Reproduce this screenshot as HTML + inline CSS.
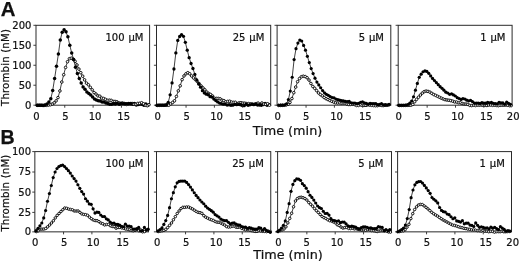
<!DOCTYPE html>
<html><head><meta charset="utf-8"><title>Thrombin generation</title>
<style>html,body{margin:0;padding:0;background:#fff}svg{display:block}</style></head>
<body>
<svg width="520" height="262" viewBox="0 0 520 262">
<rect width="520" height="262" fill="#fff"/>
<rect x="36.00" y="25.30" width="113.60" height="79.90" fill="none" stroke="#2a2a2a" stroke-width="1"/>
<line x1="33.40" x2="36.00" y1="25.30" y2="25.30" stroke="#2a2a2a" stroke-width="0.9"/>
<line x1="33.40" x2="36.00" y1="45.28" y2="45.28" stroke="#2a2a2a" stroke-width="0.9"/>
<line x1="33.40" x2="36.00" y1="65.25" y2="65.25" stroke="#2a2a2a" stroke-width="0.9"/>
<line x1="33.40" x2="36.00" y1="85.23" y2="85.23" stroke="#2a2a2a" stroke-width="0.9"/>
<line x1="33.40" x2="36.00" y1="105.20" y2="105.20" stroke="#2a2a2a" stroke-width="0.9"/>
<polyline points="37.10,105.38 39.00,105.33 40.90,105.31 42.80,105.30 44.70,105.30 46.60,105.29 48.50,105.09 50.40,104.74 52.30,104.00 54.20,102.83 56.10,100.87 58.00,97.59 59.90,90.94 61.80,82.03 63.70,74.72 65.60,67.42 67.50,61.72 69.40,58.71 71.30,58.21 73.20,59.14 75.10,61.30 77.00,64.97 78.90,69.10 80.80,72.72 82.70,76.16 84.60,79.88 86.50,83.13 88.40,84.81 90.30,87.30 92.20,89.83 94.10,92.60 96.00,94.04 97.90,95.88 99.80,96.16 101.70,98.05 103.60,98.45 105.50,99.36 107.40,100.33 109.30,100.16 111.20,100.36 113.10,101.43 115.00,101.43 116.90,101.81 118.80,102.79 120.70,103.66 122.60,102.97 124.50,103.56 126.40,104.42 128.30,104.11 130.20,103.94 132.10,103.51 134.00,104.23 135.90,104.18 137.80,103.42 139.70,103.30 141.60,102.73 143.50,103.77 145.40,105.25 147.30,105.70 149.00,104.71" fill="none" stroke="#111" stroke-width="0.8" stroke-linejoin="round"/>
<circle cx="37.10" cy="105.38" r="1.3" fill="#fff" stroke="#000" stroke-width="0.9"/>
<circle cx="39.00" cy="105.33" r="1.3" fill="#fff" stroke="#000" stroke-width="0.9"/>
<circle cx="40.90" cy="105.31" r="1.3" fill="#fff" stroke="#000" stroke-width="0.9"/>
<circle cx="42.80" cy="105.30" r="1.3" fill="#fff" stroke="#000" stroke-width="0.9"/>
<circle cx="44.70" cy="105.30" r="1.3" fill="#fff" stroke="#000" stroke-width="0.9"/>
<circle cx="46.60" cy="105.29" r="1.3" fill="#fff" stroke="#000" stroke-width="0.9"/>
<circle cx="48.50" cy="105.09" r="1.3" fill="#fff" stroke="#000" stroke-width="0.9"/>
<circle cx="50.40" cy="104.74" r="1.3" fill="#fff" stroke="#000" stroke-width="0.9"/>
<circle cx="52.30" cy="104.00" r="1.3" fill="#fff" stroke="#000" stroke-width="0.9"/>
<circle cx="54.20" cy="102.83" r="1.3" fill="#fff" stroke="#000" stroke-width="0.9"/>
<circle cx="56.10" cy="100.87" r="1.3" fill="#fff" stroke="#000" stroke-width="0.9"/>
<circle cx="58.00" cy="97.59" r="1.3" fill="#fff" stroke="#000" stroke-width="0.9"/>
<circle cx="59.90" cy="90.94" r="1.3" fill="#fff" stroke="#000" stroke-width="0.9"/>
<circle cx="61.80" cy="82.03" r="1.3" fill="#fff" stroke="#000" stroke-width="0.9"/>
<circle cx="63.70" cy="74.72" r="1.3" fill="#fff" stroke="#000" stroke-width="0.9"/>
<circle cx="65.60" cy="67.42" r="1.3" fill="#fff" stroke="#000" stroke-width="0.9"/>
<circle cx="67.50" cy="61.72" r="1.3" fill="#fff" stroke="#000" stroke-width="0.9"/>
<circle cx="69.40" cy="58.71" r="1.3" fill="#fff" stroke="#000" stroke-width="0.9"/>
<circle cx="71.30" cy="58.21" r="1.3" fill="#fff" stroke="#000" stroke-width="0.9"/>
<circle cx="73.20" cy="59.14" r="1.3" fill="#fff" stroke="#000" stroke-width="0.9"/>
<circle cx="75.10" cy="61.30" r="1.3" fill="#fff" stroke="#000" stroke-width="0.9"/>
<circle cx="77.00" cy="64.97" r="1.3" fill="#fff" stroke="#000" stroke-width="0.9"/>
<circle cx="78.90" cy="69.10" r="1.3" fill="#fff" stroke="#000" stroke-width="0.9"/>
<circle cx="80.80" cy="72.72" r="1.3" fill="#fff" stroke="#000" stroke-width="0.9"/>
<circle cx="82.70" cy="76.16" r="1.3" fill="#fff" stroke="#000" stroke-width="0.9"/>
<circle cx="84.60" cy="79.88" r="1.3" fill="#fff" stroke="#000" stroke-width="0.9"/>
<circle cx="86.50" cy="83.13" r="1.3" fill="#fff" stroke="#000" stroke-width="0.9"/>
<circle cx="88.40" cy="84.81" r="1.3" fill="#fff" stroke="#000" stroke-width="0.9"/>
<circle cx="90.30" cy="87.30" r="1.3" fill="#fff" stroke="#000" stroke-width="0.9"/>
<circle cx="92.20" cy="89.83" r="1.3" fill="#fff" stroke="#000" stroke-width="0.9"/>
<circle cx="94.10" cy="92.60" r="1.3" fill="#fff" stroke="#000" stroke-width="0.9"/>
<circle cx="96.00" cy="94.04" r="1.3" fill="#fff" stroke="#000" stroke-width="0.9"/>
<circle cx="97.90" cy="95.88" r="1.3" fill="#fff" stroke="#000" stroke-width="0.9"/>
<circle cx="99.80" cy="96.16" r="1.3" fill="#fff" stroke="#000" stroke-width="0.9"/>
<circle cx="101.70" cy="98.05" r="1.3" fill="#fff" stroke="#000" stroke-width="0.9"/>
<circle cx="103.60" cy="98.45" r="1.3" fill="#fff" stroke="#000" stroke-width="0.9"/>
<circle cx="105.50" cy="99.36" r="1.3" fill="#fff" stroke="#000" stroke-width="0.9"/>
<circle cx="107.40" cy="100.33" r="1.3" fill="#fff" stroke="#000" stroke-width="0.9"/>
<circle cx="109.30" cy="100.16" r="1.3" fill="#fff" stroke="#000" stroke-width="0.9"/>
<circle cx="111.20" cy="100.36" r="1.3" fill="#fff" stroke="#000" stroke-width="0.9"/>
<circle cx="113.10" cy="101.43" r="1.3" fill="#fff" stroke="#000" stroke-width="0.9"/>
<circle cx="115.00" cy="101.43" r="1.3" fill="#fff" stroke="#000" stroke-width="0.9"/>
<circle cx="116.90" cy="101.81" r="1.3" fill="#fff" stroke="#000" stroke-width="0.9"/>
<circle cx="118.80" cy="102.79" r="1.3" fill="#fff" stroke="#000" stroke-width="0.9"/>
<circle cx="120.70" cy="103.66" r="1.3" fill="#fff" stroke="#000" stroke-width="0.9"/>
<circle cx="122.60" cy="102.97" r="1.3" fill="#fff" stroke="#000" stroke-width="0.9"/>
<circle cx="124.50" cy="103.56" r="1.3" fill="#fff" stroke="#000" stroke-width="0.9"/>
<circle cx="126.40" cy="104.42" r="1.3" fill="#fff" stroke="#000" stroke-width="0.9"/>
<circle cx="128.30" cy="104.11" r="1.3" fill="#fff" stroke="#000" stroke-width="0.9"/>
<circle cx="130.20" cy="103.94" r="1.3" fill="#fff" stroke="#000" stroke-width="0.9"/>
<circle cx="132.10" cy="103.51" r="1.3" fill="#fff" stroke="#000" stroke-width="0.9"/>
<polyline points="37.50,105.30 39.40,105.21 41.30,105.25 43.20,105.38 45.10,105.09 47.00,103.92 48.90,102.00 50.80,98.78 52.70,90.58 54.60,78.56 56.50,66.20 58.40,54.08 60.30,39.96 62.20,32.20 64.10,29.71 66.00,31.85 67.90,36.86 69.80,45.20 71.70,53.03 73.60,59.48 75.50,67.15 77.40,73.51 79.30,78.50 81.20,82.99 83.10,87.06 85.00,89.27 86.90,91.96 88.80,93.52 90.70,94.91 92.60,97.01 94.50,99.02 96.40,100.11 98.30,100.85 100.20,101.00 102.10,102.03 104.00,102.03 105.90,102.91 107.80,103.39 109.70,104.37 111.60,104.19 113.50,103.66 115.40,103.91 117.30,103.23 119.20,104.15 121.10,103.30 123.00,103.75 124.90,103.74 126.80,103.65 128.70,103.53 130.60,103.40 132.50,104.32 134.40,103.46 136.30,104.94 138.20,104.49 140.10,103.89 142.00,104.15 143.90,105.16 145.80,104.09 147.70,105.15" fill="none" stroke="#111" stroke-width="0.8" stroke-linejoin="round"/>
<circle cx="37.50" cy="105.30" r="1.75" fill="#000"/>
<circle cx="39.40" cy="105.21" r="1.75" fill="#000"/>
<circle cx="41.30" cy="105.25" r="1.75" fill="#000"/>
<circle cx="43.20" cy="105.38" r="1.75" fill="#000"/>
<circle cx="45.10" cy="105.09" r="1.75" fill="#000"/>
<circle cx="47.00" cy="103.92" r="1.75" fill="#000"/>
<circle cx="48.90" cy="102.00" r="1.75" fill="#000"/>
<circle cx="50.80" cy="98.78" r="1.75" fill="#000"/>
<circle cx="52.70" cy="90.58" r="1.75" fill="#000"/>
<circle cx="54.60" cy="78.56" r="1.75" fill="#000"/>
<circle cx="56.50" cy="66.20" r="1.75" fill="#000"/>
<circle cx="58.40" cy="54.08" r="1.75" fill="#000"/>
<circle cx="60.30" cy="39.96" r="1.75" fill="#000"/>
<circle cx="62.20" cy="32.20" r="1.75" fill="#000"/>
<circle cx="64.10" cy="29.71" r="1.75" fill="#000"/>
<circle cx="66.00" cy="31.85" r="1.75" fill="#000"/>
<circle cx="67.90" cy="36.86" r="1.75" fill="#000"/>
<circle cx="69.80" cy="45.20" r="1.75" fill="#000"/>
<circle cx="71.70" cy="53.03" r="1.75" fill="#000"/>
<circle cx="73.60" cy="59.48" r="1.75" fill="#000"/>
<circle cx="75.50" cy="67.15" r="1.75" fill="#000"/>
<circle cx="77.40" cy="73.51" r="1.75" fill="#000"/>
<circle cx="79.30" cy="78.50" r="1.75" fill="#000"/>
<circle cx="81.20" cy="82.99" r="1.75" fill="#000"/>
<circle cx="83.10" cy="87.06" r="1.75" fill="#000"/>
<circle cx="85.00" cy="89.27" r="1.75" fill="#000"/>
<circle cx="86.90" cy="91.96" r="1.75" fill="#000"/>
<circle cx="88.80" cy="93.52" r="1.75" fill="#000"/>
<circle cx="90.70" cy="94.91" r="1.75" fill="#000"/>
<circle cx="92.60" cy="97.01" r="1.75" fill="#000"/>
<circle cx="94.50" cy="99.02" r="1.75" fill="#000"/>
<circle cx="96.40" cy="100.11" r="1.75" fill="#000"/>
<circle cx="98.30" cy="100.85" r="1.75" fill="#000"/>
<circle cx="100.20" cy="101.00" r="1.75" fill="#000"/>
<circle cx="102.10" cy="102.03" r="1.75" fill="#000"/>
<circle cx="104.00" cy="102.03" r="1.75" fill="#000"/>
<circle cx="105.90" cy="102.91" r="1.75" fill="#000"/>
<circle cx="107.80" cy="103.39" r="1.75" fill="#000"/>
<circle cx="109.70" cy="104.37" r="1.75" fill="#000"/>
<circle cx="111.60" cy="104.19" r="1.75" fill="#000"/>
<circle cx="113.50" cy="103.66" r="1.75" fill="#000"/>
<circle cx="115.40" cy="103.91" r="1.75" fill="#000"/>
<circle cx="117.30" cy="103.23" r="1.75" fill="#000"/>
<circle cx="119.20" cy="104.15" r="1.75" fill="#000"/>
<circle cx="121.10" cy="103.30" r="1.75" fill="#000"/>
<circle cx="123.00" cy="103.75" r="1.75" fill="#000"/>
<circle cx="124.90" cy="103.74" r="1.75" fill="#000"/>
<circle cx="126.80" cy="103.65" r="1.75" fill="#000"/>
<circle cx="128.70" cy="103.53" r="1.75" fill="#000"/>
<circle cx="130.60" cy="103.40" r="1.75" fill="#000"/>
<circle cx="132.50" cy="104.32" r="1.75" fill="#000"/>
<circle cx="134.40" cy="103.46" r="1.75" fill="#000"/>
<circle cx="136.30" cy="104.94" r="1.75" fill="#000"/>
<circle cx="138.20" cy="104.49" r="1.75" fill="#000"/>
<circle cx="140.10" cy="103.89" r="1.75" fill="#000"/>
<circle cx="142.00" cy="104.15" r="1.75" fill="#000"/>
<circle cx="143.90" cy="105.16" r="1.75" fill="#000"/>
<circle cx="145.80" cy="104.09" r="1.75" fill="#000"/>
<circle cx="147.70" cy="105.15" r="1.75" fill="#000"/>
<circle cx="134.00" cy="104.23" r="1.3" fill="#fff" stroke="#000" stroke-width="0.9"/>
<circle cx="135.90" cy="104.18" r="1.3" fill="#fff" stroke="#000" stroke-width="0.9"/>
<circle cx="137.80" cy="103.42" r="1.3" fill="#fff" stroke="#000" stroke-width="0.9"/>
<circle cx="139.70" cy="103.30" r="1.3" fill="#fff" stroke="#000" stroke-width="0.9"/>
<circle cx="141.60" cy="102.73" r="1.3" fill="#fff" stroke="#000" stroke-width="0.9"/>
<circle cx="143.50" cy="103.77" r="1.3" fill="#fff" stroke="#000" stroke-width="0.9"/>
<circle cx="145.40" cy="105.25" r="1.3" fill="#fff" stroke="#000" stroke-width="0.9"/>
<circle cx="147.30" cy="105.70" r="1.3" fill="#fff" stroke="#000" stroke-width="0.9"/>
<circle cx="149.00" cy="104.71" r="1.3" fill="#fff" stroke="#000" stroke-width="0.9"/>
<rect x="156.50" y="25.30" width="114.20" height="79.90" fill="none" stroke="#2a2a2a" stroke-width="1"/>
<line x1="153.90" x2="156.50" y1="25.30" y2="25.30" stroke="#2a2a2a" stroke-width="0.9"/>
<line x1="153.90" x2="156.50" y1="45.28" y2="45.28" stroke="#2a2a2a" stroke-width="0.9"/>
<line x1="153.90" x2="156.50" y1="65.25" y2="65.25" stroke="#2a2a2a" stroke-width="0.9"/>
<line x1="153.90" x2="156.50" y1="85.23" y2="85.23" stroke="#2a2a2a" stroke-width="0.9"/>
<line x1="153.90" x2="156.50" y1="105.20" y2="105.20" stroke="#2a2a2a" stroke-width="0.9"/>
<polyline points="157.40,105.38 159.30,105.33 161.20,105.30 163.10,105.30 165.00,105.30 166.90,105.29 168.80,105.21 170.70,103.93 172.60,102.45 174.50,100.81 176.40,96.43 178.30,90.88 180.20,85.82 182.10,79.65 184.00,75.94 185.90,73.84 187.80,72.70 189.70,73.78 191.60,75.91 193.50,77.90 195.40,79.64 197.30,81.54 199.20,83.72 201.10,85.92 203.00,87.91 204.90,89.81 206.80,92.06 208.70,93.50 210.60,94.46 212.50,95.97 214.40,98.22 216.30,98.43 218.20,98.42 220.10,98.83 222.00,100.19 223.90,100.60 225.80,101.76 227.70,101.41 229.60,101.19 231.50,102.08 233.40,102.37 235.30,102.25 237.20,103.57 239.10,102.87 241.00,102.75 242.90,103.08 244.80,103.18 246.70,103.61 248.60,103.59 250.50,103.81 252.40,104.13 254.30,104.18 256.20,103.65 258.10,103.10 260.00,104.42 261.90,102.99 263.80,104.03 265.70,104.25 267.60,103.77 269.50,105.19" fill="none" stroke="#111" stroke-width="0.8" stroke-linejoin="round"/>
<circle cx="157.40" cy="105.38" r="1.3" fill="#fff" stroke="#000" stroke-width="0.9"/>
<circle cx="159.30" cy="105.33" r="1.3" fill="#fff" stroke="#000" stroke-width="0.9"/>
<circle cx="161.20" cy="105.30" r="1.3" fill="#fff" stroke="#000" stroke-width="0.9"/>
<circle cx="163.10" cy="105.30" r="1.3" fill="#fff" stroke="#000" stroke-width="0.9"/>
<circle cx="165.00" cy="105.30" r="1.3" fill="#fff" stroke="#000" stroke-width="0.9"/>
<circle cx="166.90" cy="105.29" r="1.3" fill="#fff" stroke="#000" stroke-width="0.9"/>
<circle cx="168.80" cy="105.21" r="1.3" fill="#fff" stroke="#000" stroke-width="0.9"/>
<circle cx="170.70" cy="103.93" r="1.3" fill="#fff" stroke="#000" stroke-width="0.9"/>
<circle cx="172.60" cy="102.45" r="1.3" fill="#fff" stroke="#000" stroke-width="0.9"/>
<circle cx="174.50" cy="100.81" r="1.3" fill="#fff" stroke="#000" stroke-width="0.9"/>
<circle cx="176.40" cy="96.43" r="1.3" fill="#fff" stroke="#000" stroke-width="0.9"/>
<circle cx="178.30" cy="90.88" r="1.3" fill="#fff" stroke="#000" stroke-width="0.9"/>
<circle cx="180.20" cy="85.82" r="1.3" fill="#fff" stroke="#000" stroke-width="0.9"/>
<circle cx="182.10" cy="79.65" r="1.3" fill="#fff" stroke="#000" stroke-width="0.9"/>
<circle cx="184.00" cy="75.94" r="1.3" fill="#fff" stroke="#000" stroke-width="0.9"/>
<circle cx="185.90" cy="73.84" r="1.3" fill="#fff" stroke="#000" stroke-width="0.9"/>
<circle cx="187.80" cy="72.70" r="1.3" fill="#fff" stroke="#000" stroke-width="0.9"/>
<circle cx="189.70" cy="73.78" r="1.3" fill="#fff" stroke="#000" stroke-width="0.9"/>
<circle cx="191.60" cy="75.91" r="1.3" fill="#fff" stroke="#000" stroke-width="0.9"/>
<circle cx="193.50" cy="77.90" r="1.3" fill="#fff" stroke="#000" stroke-width="0.9"/>
<circle cx="195.40" cy="79.64" r="1.3" fill="#fff" stroke="#000" stroke-width="0.9"/>
<circle cx="197.30" cy="81.54" r="1.3" fill="#fff" stroke="#000" stroke-width="0.9"/>
<circle cx="199.20" cy="83.72" r="1.3" fill="#fff" stroke="#000" stroke-width="0.9"/>
<circle cx="201.10" cy="85.92" r="1.3" fill="#fff" stroke="#000" stroke-width="0.9"/>
<circle cx="203.00" cy="87.91" r="1.3" fill="#fff" stroke="#000" stroke-width="0.9"/>
<circle cx="204.90" cy="89.81" r="1.3" fill="#fff" stroke="#000" stroke-width="0.9"/>
<circle cx="206.80" cy="92.06" r="1.3" fill="#fff" stroke="#000" stroke-width="0.9"/>
<circle cx="208.70" cy="93.50" r="1.3" fill="#fff" stroke="#000" stroke-width="0.9"/>
<circle cx="210.60" cy="94.46" r="1.3" fill="#fff" stroke="#000" stroke-width="0.9"/>
<circle cx="212.50" cy="95.97" r="1.3" fill="#fff" stroke="#000" stroke-width="0.9"/>
<circle cx="214.40" cy="98.22" r="1.3" fill="#fff" stroke="#000" stroke-width="0.9"/>
<circle cx="216.30" cy="98.43" r="1.3" fill="#fff" stroke="#000" stroke-width="0.9"/>
<circle cx="218.20" cy="98.42" r="1.3" fill="#fff" stroke="#000" stroke-width="0.9"/>
<circle cx="220.10" cy="98.83" r="1.3" fill="#fff" stroke="#000" stroke-width="0.9"/>
<circle cx="222.00" cy="100.19" r="1.3" fill="#fff" stroke="#000" stroke-width="0.9"/>
<circle cx="223.90" cy="100.60" r="1.3" fill="#fff" stroke="#000" stroke-width="0.9"/>
<circle cx="225.80" cy="101.76" r="1.3" fill="#fff" stroke="#000" stroke-width="0.9"/>
<circle cx="227.70" cy="101.41" r="1.3" fill="#fff" stroke="#000" stroke-width="0.9"/>
<circle cx="229.60" cy="101.19" r="1.3" fill="#fff" stroke="#000" stroke-width="0.9"/>
<circle cx="231.50" cy="102.08" r="1.3" fill="#fff" stroke="#000" stroke-width="0.9"/>
<circle cx="233.40" cy="102.37" r="1.3" fill="#fff" stroke="#000" stroke-width="0.9"/>
<circle cx="235.30" cy="102.25" r="1.3" fill="#fff" stroke="#000" stroke-width="0.9"/>
<circle cx="237.20" cy="103.57" r="1.3" fill="#fff" stroke="#000" stroke-width="0.9"/>
<circle cx="239.10" cy="102.87" r="1.3" fill="#fff" stroke="#000" stroke-width="0.9"/>
<circle cx="241.00" cy="102.75" r="1.3" fill="#fff" stroke="#000" stroke-width="0.9"/>
<circle cx="242.90" cy="103.08" r="1.3" fill="#fff" stroke="#000" stroke-width="0.9"/>
<circle cx="244.80" cy="103.18" r="1.3" fill="#fff" stroke="#000" stroke-width="0.9"/>
<circle cx="246.70" cy="103.61" r="1.3" fill="#fff" stroke="#000" stroke-width="0.9"/>
<circle cx="248.60" cy="103.59" r="1.3" fill="#fff" stroke="#000" stroke-width="0.9"/>
<circle cx="250.50" cy="103.81" r="1.3" fill="#fff" stroke="#000" stroke-width="0.9"/>
<circle cx="252.40" cy="104.13" r="1.3" fill="#fff" stroke="#000" stroke-width="0.9"/>
<circle cx="254.30" cy="104.18" r="1.3" fill="#fff" stroke="#000" stroke-width="0.9"/>
<circle cx="256.20" cy="103.65" r="1.3" fill="#fff" stroke="#000" stroke-width="0.9"/>
<circle cx="258.10" cy="103.10" r="1.3" fill="#fff" stroke="#000" stroke-width="0.9"/>
<circle cx="260.00" cy="104.42" r="1.3" fill="#fff" stroke="#000" stroke-width="0.9"/>
<circle cx="261.90" cy="102.99" r="1.3" fill="#fff" stroke="#000" stroke-width="0.9"/>
<polyline points="156.85,105.29 158.75,105.22 160.65,105.20 162.55,105.20 164.45,105.18 166.35,104.66 168.25,102.32 170.15,94.85 172.05,82.94 173.95,68.98 175.85,52.90 177.75,40.40 179.65,36.49 181.55,34.72 183.45,36.37 185.35,42.34 187.25,50.19 189.15,57.68 191.05,63.48 192.95,68.52 194.85,74.41 196.75,79.98 198.65,84.02 200.55,87.14 202.45,90.69 204.35,92.95 206.25,94.22 208.15,94.76 210.05,96.69 211.95,97.08 213.85,99.03 215.75,100.58 217.65,101.95 219.55,103.12 221.45,103.53 223.35,104.22 225.25,104.10 227.15,105.03 229.05,104.73 230.95,105.25 232.85,105.15 234.75,104.34 236.65,104.67 238.55,104.32 240.45,104.75 242.35,105.54 244.25,105.70 246.15,104.14 248.05,105.36 249.95,104.78 251.85,104.20 253.75,104.71 255.65,104.22 257.55,105.09 259.45,104.98 261.35,105.27 263.25,104.68 265.15,103.31 267.05,105.26 268.95,104.56" fill="none" stroke="#111" stroke-width="0.8" stroke-linejoin="round"/>
<circle cx="156.85" cy="105.29" r="1.65" fill="#000"/>
<circle cx="158.75" cy="105.22" r="1.65" fill="#000"/>
<circle cx="160.65" cy="105.20" r="1.65" fill="#000"/>
<circle cx="162.55" cy="105.20" r="1.65" fill="#000"/>
<circle cx="164.45" cy="105.18" r="1.65" fill="#000"/>
<circle cx="166.35" cy="104.66" r="1.65" fill="#000"/>
<circle cx="168.25" cy="102.32" r="1.65" fill="#000"/>
<circle cx="170.15" cy="94.85" r="1.65" fill="#000"/>
<circle cx="172.05" cy="82.94" r="1.65" fill="#000"/>
<circle cx="173.95" cy="68.98" r="1.65" fill="#000"/>
<circle cx="175.85" cy="52.90" r="1.65" fill="#000"/>
<circle cx="177.75" cy="40.40" r="1.65" fill="#000"/>
<circle cx="179.65" cy="36.49" r="1.65" fill="#000"/>
<circle cx="181.55" cy="34.72" r="1.65" fill="#000"/>
<circle cx="183.45" cy="36.37" r="1.65" fill="#000"/>
<circle cx="185.35" cy="42.34" r="1.65" fill="#000"/>
<circle cx="187.25" cy="50.19" r="1.65" fill="#000"/>
<circle cx="189.15" cy="57.68" r="1.65" fill="#000"/>
<circle cx="191.05" cy="63.48" r="1.65" fill="#000"/>
<circle cx="192.95" cy="68.52" r="1.65" fill="#000"/>
<circle cx="194.85" cy="74.41" r="1.65" fill="#000"/>
<circle cx="196.75" cy="79.98" r="1.65" fill="#000"/>
<circle cx="198.65" cy="84.02" r="1.65" fill="#000"/>
<circle cx="200.55" cy="87.14" r="1.65" fill="#000"/>
<circle cx="202.45" cy="90.69" r="1.65" fill="#000"/>
<circle cx="204.35" cy="92.95" r="1.65" fill="#000"/>
<circle cx="206.25" cy="94.22" r="1.65" fill="#000"/>
<circle cx="208.15" cy="94.76" r="1.65" fill="#000"/>
<circle cx="210.05" cy="96.69" r="1.65" fill="#000"/>
<circle cx="211.95" cy="97.08" r="1.65" fill="#000"/>
<circle cx="213.85" cy="99.03" r="1.65" fill="#000"/>
<circle cx="215.75" cy="100.58" r="1.65" fill="#000"/>
<circle cx="217.65" cy="101.95" r="1.65" fill="#000"/>
<circle cx="219.55" cy="103.12" r="1.65" fill="#000"/>
<circle cx="221.45" cy="103.53" r="1.65" fill="#000"/>
<circle cx="223.35" cy="104.22" r="1.65" fill="#000"/>
<circle cx="225.25" cy="104.10" r="1.65" fill="#000"/>
<circle cx="227.15" cy="105.03" r="1.65" fill="#000"/>
<circle cx="229.05" cy="104.73" r="1.65" fill="#000"/>
<circle cx="230.95" cy="105.25" r="1.65" fill="#000"/>
<circle cx="232.85" cy="105.15" r="1.65" fill="#000"/>
<circle cx="234.75" cy="104.34" r="1.65" fill="#000"/>
<circle cx="236.65" cy="104.67" r="1.65" fill="#000"/>
<circle cx="238.55" cy="104.32" r="1.65" fill="#000"/>
<circle cx="240.45" cy="104.75" r="1.65" fill="#000"/>
<circle cx="242.35" cy="105.54" r="1.65" fill="#000"/>
<circle cx="244.25" cy="105.70" r="1.65" fill="#000"/>
<circle cx="246.15" cy="104.14" r="1.65" fill="#000"/>
<circle cx="248.05" cy="105.36" r="1.65" fill="#000"/>
<circle cx="249.95" cy="104.78" r="1.65" fill="#000"/>
<circle cx="251.85" cy="104.20" r="1.65" fill="#000"/>
<circle cx="253.75" cy="104.71" r="1.65" fill="#000"/>
<circle cx="255.65" cy="104.22" r="1.65" fill="#000"/>
<circle cx="257.55" cy="105.09" r="1.65" fill="#000"/>
<circle cx="259.45" cy="104.98" r="1.65" fill="#000"/>
<circle cx="261.35" cy="105.27" r="1.65" fill="#000"/>
<circle cx="263.25" cy="104.68" r="1.65" fill="#000"/>
<circle cx="265.15" cy="103.31" r="1.65" fill="#000"/>
<circle cx="267.05" cy="105.26" r="1.65" fill="#000"/>
<circle cx="268.95" cy="104.56" r="1.65" fill="#000"/>
<circle cx="263.80" cy="104.03" r="1.3" fill="#fff" stroke="#000" stroke-width="0.9"/>
<circle cx="265.70" cy="104.25" r="1.3" fill="#fff" stroke="#000" stroke-width="0.9"/>
<circle cx="267.60" cy="103.77" r="1.3" fill="#fff" stroke="#000" stroke-width="0.9"/>
<circle cx="269.50" cy="105.19" r="1.3" fill="#fff" stroke="#000" stroke-width="0.9"/>
<rect x="277.10" y="25.30" width="113.70" height="79.90" fill="none" stroke="#2a2a2a" stroke-width="1"/>
<line x1="274.50" x2="277.10" y1="25.30" y2="25.30" stroke="#2a2a2a" stroke-width="0.9"/>
<line x1="274.50" x2="277.10" y1="45.28" y2="45.28" stroke="#2a2a2a" stroke-width="0.9"/>
<line x1="274.50" x2="277.10" y1="65.25" y2="65.25" stroke="#2a2a2a" stroke-width="0.9"/>
<line x1="274.50" x2="277.10" y1="85.23" y2="85.23" stroke="#2a2a2a" stroke-width="0.9"/>
<line x1="274.50" x2="277.10" y1="105.20" y2="105.20" stroke="#2a2a2a" stroke-width="0.9"/>
<polyline points="278.60,105.39 280.50,105.36 282.40,105.32 284.30,105.21 286.20,104.92 288.10,104.30 290.00,102.31 291.90,98.56 293.80,92.71 295.70,87.07 297.60,81.66 299.50,78.58 301.40,76.74 303.30,76.21 305.20,76.59 307.10,77.74 309.00,80.04 310.90,83.48 312.80,86.45 314.70,88.31 316.60,90.59 318.50,92.94 320.40,94.61 322.30,95.87 324.20,97.55 326.10,98.71 328.00,99.58 329.90,100.51 331.80,101.30 333.70,102.10 335.60,102.79 337.50,103.01 339.40,102.91 341.30,103.27 343.20,103.12 345.10,103.12 347.00,104.15 348.90,104.51 350.80,104.46 352.70,104.29 354.60,104.53 356.50,105.45 358.40,105.44 360.30,104.81 362.20,105.38 364.10,105.32 366.00,105.33 367.90,104.87 369.80,105.13 371.70,105.33 373.60,105.55 375.50,105.70 377.40,105.65 379.30,105.20 381.20,105.41 383.10,105.59 385.00,105.36 386.90,105.24 388.80,104.95" fill="none" stroke="#111" stroke-width="0.8" stroke-linejoin="round"/>
<circle cx="278.60" cy="105.39" r="1.3" fill="#fff" stroke="#000" stroke-width="0.9"/>
<circle cx="280.50" cy="105.36" r="1.3" fill="#fff" stroke="#000" stroke-width="0.9"/>
<circle cx="282.40" cy="105.32" r="1.3" fill="#fff" stroke="#000" stroke-width="0.9"/>
<circle cx="284.30" cy="105.21" r="1.3" fill="#fff" stroke="#000" stroke-width="0.9"/>
<circle cx="286.20" cy="104.92" r="1.3" fill="#fff" stroke="#000" stroke-width="0.9"/>
<circle cx="288.10" cy="104.30" r="1.3" fill="#fff" stroke="#000" stroke-width="0.9"/>
<circle cx="290.00" cy="102.31" r="1.3" fill="#fff" stroke="#000" stroke-width="0.9"/>
<circle cx="291.90" cy="98.56" r="1.3" fill="#fff" stroke="#000" stroke-width="0.9"/>
<circle cx="293.80" cy="92.71" r="1.3" fill="#fff" stroke="#000" stroke-width="0.9"/>
<circle cx="295.70" cy="87.07" r="1.3" fill="#fff" stroke="#000" stroke-width="0.9"/>
<circle cx="297.60" cy="81.66" r="1.3" fill="#fff" stroke="#000" stroke-width="0.9"/>
<circle cx="299.50" cy="78.58" r="1.3" fill="#fff" stroke="#000" stroke-width="0.9"/>
<circle cx="301.40" cy="76.74" r="1.3" fill="#fff" stroke="#000" stroke-width="0.9"/>
<circle cx="303.30" cy="76.21" r="1.3" fill="#fff" stroke="#000" stroke-width="0.9"/>
<circle cx="305.20" cy="76.59" r="1.3" fill="#fff" stroke="#000" stroke-width="0.9"/>
<circle cx="307.10" cy="77.74" r="1.3" fill="#fff" stroke="#000" stroke-width="0.9"/>
<circle cx="309.00" cy="80.04" r="1.3" fill="#fff" stroke="#000" stroke-width="0.9"/>
<circle cx="310.90" cy="83.48" r="1.3" fill="#fff" stroke="#000" stroke-width="0.9"/>
<circle cx="312.80" cy="86.45" r="1.3" fill="#fff" stroke="#000" stroke-width="0.9"/>
<circle cx="314.70" cy="88.31" r="1.3" fill="#fff" stroke="#000" stroke-width="0.9"/>
<circle cx="316.60" cy="90.59" r="1.3" fill="#fff" stroke="#000" stroke-width="0.9"/>
<circle cx="318.50" cy="92.94" r="1.3" fill="#fff" stroke="#000" stroke-width="0.9"/>
<circle cx="320.40" cy="94.61" r="1.3" fill="#fff" stroke="#000" stroke-width="0.9"/>
<circle cx="322.30" cy="95.87" r="1.3" fill="#fff" stroke="#000" stroke-width="0.9"/>
<circle cx="324.20" cy="97.55" r="1.3" fill="#fff" stroke="#000" stroke-width="0.9"/>
<circle cx="326.10" cy="98.71" r="1.3" fill="#fff" stroke="#000" stroke-width="0.9"/>
<circle cx="328.00" cy="99.58" r="1.3" fill="#fff" stroke="#000" stroke-width="0.9"/>
<circle cx="329.90" cy="100.51" r="1.3" fill="#fff" stroke="#000" stroke-width="0.9"/>
<circle cx="331.80" cy="101.30" r="1.3" fill="#fff" stroke="#000" stroke-width="0.9"/>
<circle cx="333.70" cy="102.10" r="1.3" fill="#fff" stroke="#000" stroke-width="0.9"/>
<circle cx="335.60" cy="102.79" r="1.3" fill="#fff" stroke="#000" stroke-width="0.9"/>
<circle cx="337.50" cy="103.01" r="1.3" fill="#fff" stroke="#000" stroke-width="0.9"/>
<circle cx="339.40" cy="102.91" r="1.3" fill="#fff" stroke="#000" stroke-width="0.9"/>
<circle cx="341.30" cy="103.27" r="1.3" fill="#fff" stroke="#000" stroke-width="0.9"/>
<circle cx="343.20" cy="103.12" r="1.3" fill="#fff" stroke="#000" stroke-width="0.9"/>
<circle cx="345.10" cy="103.12" r="1.3" fill="#fff" stroke="#000" stroke-width="0.9"/>
<circle cx="347.00" cy="104.15" r="1.3" fill="#fff" stroke="#000" stroke-width="0.9"/>
<circle cx="348.90" cy="104.51" r="1.3" fill="#fff" stroke="#000" stroke-width="0.9"/>
<circle cx="350.80" cy="104.46" r="1.3" fill="#fff" stroke="#000" stroke-width="0.9"/>
<circle cx="352.70" cy="104.29" r="1.3" fill="#fff" stroke="#000" stroke-width="0.9"/>
<circle cx="354.60" cy="104.53" r="1.3" fill="#fff" stroke="#000" stroke-width="0.9"/>
<circle cx="356.50" cy="105.45" r="1.3" fill="#fff" stroke="#000" stroke-width="0.9"/>
<circle cx="358.40" cy="105.44" r="1.3" fill="#fff" stroke="#000" stroke-width="0.9"/>
<circle cx="360.30" cy="104.81" r="1.3" fill="#fff" stroke="#000" stroke-width="0.9"/>
<circle cx="362.20" cy="105.38" r="1.3" fill="#fff" stroke="#000" stroke-width="0.9"/>
<circle cx="364.10" cy="105.32" r="1.3" fill="#fff" stroke="#000" stroke-width="0.9"/>
<circle cx="366.00" cy="105.33" r="1.3" fill="#fff" stroke="#000" stroke-width="0.9"/>
<circle cx="367.90" cy="104.87" r="1.3" fill="#fff" stroke="#000" stroke-width="0.9"/>
<circle cx="369.80" cy="105.13" r="1.3" fill="#fff" stroke="#000" stroke-width="0.9"/>
<circle cx="371.70" cy="105.33" r="1.3" fill="#fff" stroke="#000" stroke-width="0.9"/>
<circle cx="373.60" cy="105.55" r="1.3" fill="#fff" stroke="#000" stroke-width="0.9"/>
<circle cx="375.50" cy="105.70" r="1.3" fill="#fff" stroke="#000" stroke-width="0.9"/>
<circle cx="377.40" cy="105.65" r="1.3" fill="#fff" stroke="#000" stroke-width="0.9"/>
<circle cx="379.30" cy="105.20" r="1.3" fill="#fff" stroke="#000" stroke-width="0.9"/>
<circle cx="381.20" cy="105.41" r="1.3" fill="#fff" stroke="#000" stroke-width="0.9"/>
<circle cx="383.10" cy="105.59" r="1.3" fill="#fff" stroke="#000" stroke-width="0.9"/>
<circle cx="385.00" cy="105.36" r="1.3" fill="#fff" stroke="#000" stroke-width="0.9"/>
<circle cx="386.90" cy="105.24" r="1.3" fill="#fff" stroke="#000" stroke-width="0.9"/>
<circle cx="388.80" cy="104.95" r="1.3" fill="#fff" stroke="#000" stroke-width="0.9"/>
<polyline points="278.90,105.27 280.80,105.21 282.70,105.14 284.60,104.99 286.50,103.80 288.40,99.61 290.30,91.07 292.20,77.24 294.10,59.60 296.00,48.69 297.90,43.10 299.80,40.10 301.70,41.00 303.60,45.40 305.50,50.13 307.40,56.37 309.30,62.60 311.20,68.60 313.10,73.55 315.00,78.22 316.90,82.03 318.80,84.93 320.70,87.77 322.60,90.61 324.50,92.82 326.40,94.37 328.30,95.36 330.20,96.60 332.10,97.48 334.00,97.86 335.90,99.07 337.80,99.63 339.70,100.03 341.60,100.64 343.50,100.94 345.40,101.44 347.30,101.51 349.20,101.39 351.10,102.73 353.00,103.05 354.90,103.09 356.80,103.48 358.70,103.23 360.60,102.25 362.50,101.91 364.40,102.76 366.30,103.32 368.20,104.15 370.10,103.42 372.00,103.61 373.90,103.58 375.80,103.65 377.70,104.68 379.60,104.33 381.50,103.52 383.40,104.73 385.30,104.58 387.20,105.01 389.10,104.39" fill="none" stroke="#111" stroke-width="0.8" stroke-linejoin="round"/>
<circle cx="278.90" cy="105.27" r="1.6" fill="#000"/>
<circle cx="280.80" cy="105.21" r="1.6" fill="#000"/>
<circle cx="282.70" cy="105.14" r="1.6" fill="#000"/>
<circle cx="284.60" cy="104.99" r="1.6" fill="#000"/>
<circle cx="286.50" cy="103.80" r="1.6" fill="#000"/>
<circle cx="288.40" cy="99.61" r="1.6" fill="#000"/>
<circle cx="290.30" cy="91.07" r="1.6" fill="#000"/>
<circle cx="292.20" cy="77.24" r="1.6" fill="#000"/>
<circle cx="294.10" cy="59.60" r="1.6" fill="#000"/>
<circle cx="296.00" cy="48.69" r="1.6" fill="#000"/>
<circle cx="297.90" cy="43.10" r="1.6" fill="#000"/>
<circle cx="299.80" cy="40.10" r="1.6" fill="#000"/>
<circle cx="301.70" cy="41.00" r="1.6" fill="#000"/>
<circle cx="303.60" cy="45.40" r="1.6" fill="#000"/>
<circle cx="305.50" cy="50.13" r="1.6" fill="#000"/>
<circle cx="307.40" cy="56.37" r="1.6" fill="#000"/>
<circle cx="309.30" cy="62.60" r="1.6" fill="#000"/>
<circle cx="311.20" cy="68.60" r="1.6" fill="#000"/>
<circle cx="313.10" cy="73.55" r="1.6" fill="#000"/>
<circle cx="315.00" cy="78.22" r="1.6" fill="#000"/>
<circle cx="316.90" cy="82.03" r="1.6" fill="#000"/>
<circle cx="318.80" cy="84.93" r="1.6" fill="#000"/>
<circle cx="320.70" cy="87.77" r="1.6" fill="#000"/>
<circle cx="322.60" cy="90.61" r="1.6" fill="#000"/>
<circle cx="324.50" cy="92.82" r="1.6" fill="#000"/>
<circle cx="326.40" cy="94.37" r="1.6" fill="#000"/>
<circle cx="328.30" cy="95.36" r="1.6" fill="#000"/>
<circle cx="330.20" cy="96.60" r="1.6" fill="#000"/>
<circle cx="332.10" cy="97.48" r="1.6" fill="#000"/>
<circle cx="334.00" cy="97.86" r="1.6" fill="#000"/>
<circle cx="335.90" cy="99.07" r="1.6" fill="#000"/>
<circle cx="337.80" cy="99.63" r="1.6" fill="#000"/>
<circle cx="339.70" cy="100.03" r="1.6" fill="#000"/>
<circle cx="341.60" cy="100.64" r="1.6" fill="#000"/>
<circle cx="343.50" cy="100.94" r="1.6" fill="#000"/>
<circle cx="345.40" cy="101.44" r="1.6" fill="#000"/>
<circle cx="347.30" cy="101.51" r="1.6" fill="#000"/>
<circle cx="349.20" cy="101.39" r="1.6" fill="#000"/>
<circle cx="351.10" cy="102.73" r="1.6" fill="#000"/>
<circle cx="353.00" cy="103.05" r="1.6" fill="#000"/>
<circle cx="354.90" cy="103.09" r="1.6" fill="#000"/>
<circle cx="356.80" cy="103.48" r="1.6" fill="#000"/>
<circle cx="358.70" cy="103.23" r="1.6" fill="#000"/>
<circle cx="360.60" cy="102.25" r="1.6" fill="#000"/>
<circle cx="362.50" cy="101.91" r="1.6" fill="#000"/>
<circle cx="364.40" cy="102.76" r="1.6" fill="#000"/>
<circle cx="366.30" cy="103.32" r="1.6" fill="#000"/>
<circle cx="368.20" cy="104.15" r="1.6" fill="#000"/>
<circle cx="370.10" cy="103.42" r="1.6" fill="#000"/>
<circle cx="372.00" cy="103.61" r="1.6" fill="#000"/>
<circle cx="373.90" cy="103.58" r="1.6" fill="#000"/>
<circle cx="375.80" cy="103.65" r="1.6" fill="#000"/>
<circle cx="377.70" cy="104.68" r="1.6" fill="#000"/>
<circle cx="379.60" cy="104.33" r="1.6" fill="#000"/>
<circle cx="381.50" cy="103.52" r="1.6" fill="#000"/>
<circle cx="383.40" cy="104.73" r="1.6" fill="#000"/>
<circle cx="385.30" cy="104.58" r="1.6" fill="#000"/>
<circle cx="387.20" cy="105.01" r="1.6" fill="#000"/>
<circle cx="389.10" cy="104.39" r="1.6" fill="#000"/>
<rect x="398.20" y="25.30" width="113.90" height="79.90" fill="none" stroke="#2a2a2a" stroke-width="1"/>
<line x1="395.60" x2="398.20" y1="25.30" y2="25.30" stroke="#2a2a2a" stroke-width="0.9"/>
<line x1="395.60" x2="398.20" y1="45.28" y2="45.28" stroke="#2a2a2a" stroke-width="0.9"/>
<line x1="395.60" x2="398.20" y1="65.25" y2="65.25" stroke="#2a2a2a" stroke-width="0.9"/>
<line x1="395.60" x2="398.20" y1="85.23" y2="85.23" stroke="#2a2a2a" stroke-width="0.9"/>
<line x1="395.60" x2="398.20" y1="105.20" y2="105.20" stroke="#2a2a2a" stroke-width="0.9"/>
<polyline points="399.50,105.40 401.40,105.40 403.30,105.40 405.20,105.40 407.10,105.37 409.00,105.29 410.90,105.15 412.80,104.44 414.70,101.73 416.60,99.34 418.50,97.22 420.40,95.03 422.30,93.09 424.20,91.62 426.10,91.10 428.00,91.42 429.90,92.14 431.80,93.35 433.70,94.50 435.60,95.35 437.50,96.30 439.40,97.23 441.30,98.16 443.20,98.98 445.10,99.65 447.00,99.99 448.90,100.24 450.80,100.61 452.70,101.16 454.60,101.90 456.50,102.02 458.40,102.66 460.30,102.78 462.20,103.48 464.10,103.98 466.00,104.08 467.90,104.38 469.80,105.40 471.70,105.54 473.60,105.21 475.50,105.47 477.40,105.17 479.30,105.20 481.20,105.08 483.10,105.28 485.00,105.21 486.90,105.44 488.80,105.06 490.70,105.08 492.60,105.31 494.50,105.23 496.40,105.40 498.30,105.64 500.20,105.30 502.10,105.17 504.00,105.14 505.90,105.08 507.80,105.28 509.70,105.66 511.20,105.60" fill="none" stroke="#111" stroke-width="0.8" stroke-linejoin="round"/>
<circle cx="399.50" cy="105.40" r="1.3" fill="#fff" stroke="#000" stroke-width="0.9"/>
<circle cx="401.40" cy="105.40" r="1.3" fill="#fff" stroke="#000" stroke-width="0.9"/>
<circle cx="403.30" cy="105.40" r="1.3" fill="#fff" stroke="#000" stroke-width="0.9"/>
<circle cx="405.20" cy="105.40" r="1.3" fill="#fff" stroke="#000" stroke-width="0.9"/>
<circle cx="407.10" cy="105.37" r="1.3" fill="#fff" stroke="#000" stroke-width="0.9"/>
<circle cx="409.00" cy="105.29" r="1.3" fill="#fff" stroke="#000" stroke-width="0.9"/>
<circle cx="410.90" cy="105.15" r="1.3" fill="#fff" stroke="#000" stroke-width="0.9"/>
<circle cx="412.80" cy="104.44" r="1.3" fill="#fff" stroke="#000" stroke-width="0.9"/>
<circle cx="414.70" cy="101.73" r="1.3" fill="#fff" stroke="#000" stroke-width="0.9"/>
<circle cx="416.60" cy="99.34" r="1.3" fill="#fff" stroke="#000" stroke-width="0.9"/>
<circle cx="418.50" cy="97.22" r="1.3" fill="#fff" stroke="#000" stroke-width="0.9"/>
<circle cx="420.40" cy="95.03" r="1.3" fill="#fff" stroke="#000" stroke-width="0.9"/>
<circle cx="422.30" cy="93.09" r="1.3" fill="#fff" stroke="#000" stroke-width="0.9"/>
<circle cx="424.20" cy="91.62" r="1.3" fill="#fff" stroke="#000" stroke-width="0.9"/>
<circle cx="426.10" cy="91.10" r="1.3" fill="#fff" stroke="#000" stroke-width="0.9"/>
<circle cx="428.00" cy="91.42" r="1.3" fill="#fff" stroke="#000" stroke-width="0.9"/>
<circle cx="429.90" cy="92.14" r="1.3" fill="#fff" stroke="#000" stroke-width="0.9"/>
<circle cx="431.80" cy="93.35" r="1.3" fill="#fff" stroke="#000" stroke-width="0.9"/>
<circle cx="433.70" cy="94.50" r="1.3" fill="#fff" stroke="#000" stroke-width="0.9"/>
<circle cx="435.60" cy="95.35" r="1.3" fill="#fff" stroke="#000" stroke-width="0.9"/>
<circle cx="437.50" cy="96.30" r="1.3" fill="#fff" stroke="#000" stroke-width="0.9"/>
<circle cx="439.40" cy="97.23" r="1.3" fill="#fff" stroke="#000" stroke-width="0.9"/>
<circle cx="441.30" cy="98.16" r="1.3" fill="#fff" stroke="#000" stroke-width="0.9"/>
<circle cx="443.20" cy="98.98" r="1.3" fill="#fff" stroke="#000" stroke-width="0.9"/>
<circle cx="445.10" cy="99.65" r="1.3" fill="#fff" stroke="#000" stroke-width="0.9"/>
<circle cx="447.00" cy="99.99" r="1.3" fill="#fff" stroke="#000" stroke-width="0.9"/>
<circle cx="448.90" cy="100.24" r="1.3" fill="#fff" stroke="#000" stroke-width="0.9"/>
<circle cx="450.80" cy="100.61" r="1.3" fill="#fff" stroke="#000" stroke-width="0.9"/>
<circle cx="452.70" cy="101.16" r="1.3" fill="#fff" stroke="#000" stroke-width="0.9"/>
<circle cx="454.60" cy="101.90" r="1.3" fill="#fff" stroke="#000" stroke-width="0.9"/>
<circle cx="456.50" cy="102.02" r="1.3" fill="#fff" stroke="#000" stroke-width="0.9"/>
<circle cx="458.40" cy="102.66" r="1.3" fill="#fff" stroke="#000" stroke-width="0.9"/>
<circle cx="460.30" cy="102.78" r="1.3" fill="#fff" stroke="#000" stroke-width="0.9"/>
<circle cx="462.20" cy="103.48" r="1.3" fill="#fff" stroke="#000" stroke-width="0.9"/>
<circle cx="464.10" cy="103.98" r="1.3" fill="#fff" stroke="#000" stroke-width="0.9"/>
<circle cx="466.00" cy="104.08" r="1.3" fill="#fff" stroke="#000" stroke-width="0.9"/>
<circle cx="467.90" cy="104.38" r="1.3" fill="#fff" stroke="#000" stroke-width="0.9"/>
<circle cx="469.80" cy="105.40" r="1.3" fill="#fff" stroke="#000" stroke-width="0.9"/>
<circle cx="471.70" cy="105.54" r="1.3" fill="#fff" stroke="#000" stroke-width="0.9"/>
<circle cx="473.60" cy="105.21" r="1.3" fill="#fff" stroke="#000" stroke-width="0.9"/>
<circle cx="475.50" cy="105.47" r="1.3" fill="#fff" stroke="#000" stroke-width="0.9"/>
<circle cx="477.40" cy="105.17" r="1.3" fill="#fff" stroke="#000" stroke-width="0.9"/>
<circle cx="479.30" cy="105.20" r="1.3" fill="#fff" stroke="#000" stroke-width="0.9"/>
<circle cx="481.20" cy="105.08" r="1.3" fill="#fff" stroke="#000" stroke-width="0.9"/>
<circle cx="483.10" cy="105.28" r="1.3" fill="#fff" stroke="#000" stroke-width="0.9"/>
<circle cx="485.00" cy="105.21" r="1.3" fill="#fff" stroke="#000" stroke-width="0.9"/>
<circle cx="486.90" cy="105.44" r="1.3" fill="#fff" stroke="#000" stroke-width="0.9"/>
<circle cx="488.80" cy="105.06" r="1.3" fill="#fff" stroke="#000" stroke-width="0.9"/>
<circle cx="490.70" cy="105.08" r="1.3" fill="#fff" stroke="#000" stroke-width="0.9"/>
<circle cx="492.60" cy="105.31" r="1.3" fill="#fff" stroke="#000" stroke-width="0.9"/>
<circle cx="494.50" cy="105.23" r="1.3" fill="#fff" stroke="#000" stroke-width="0.9"/>
<circle cx="496.40" cy="105.40" r="1.3" fill="#fff" stroke="#000" stroke-width="0.9"/>
<circle cx="498.30" cy="105.64" r="1.3" fill="#fff" stroke="#000" stroke-width="0.9"/>
<circle cx="500.20" cy="105.30" r="1.3" fill="#fff" stroke="#000" stroke-width="0.9"/>
<circle cx="502.10" cy="105.17" r="1.3" fill="#fff" stroke="#000" stroke-width="0.9"/>
<circle cx="504.00" cy="105.14" r="1.3" fill="#fff" stroke="#000" stroke-width="0.9"/>
<circle cx="505.90" cy="105.08" r="1.3" fill="#fff" stroke="#000" stroke-width="0.9"/>
<circle cx="507.80" cy="105.28" r="1.3" fill="#fff" stroke="#000" stroke-width="0.9"/>
<circle cx="509.70" cy="105.66" r="1.3" fill="#fff" stroke="#000" stroke-width="0.9"/>
<circle cx="511.20" cy="105.60" r="1.3" fill="#fff" stroke="#000" stroke-width="0.9"/>
<polyline points="398.60,105.30 400.25,105.30 402.15,105.30 404.05,105.26 405.95,105.01 407.85,104.48 409.75,103.16 411.65,101.12 413.55,96.74 415.45,90.16 417.35,83.41 419.25,77.29 421.15,74.21 423.05,71.73 424.95,70.92 426.85,71.45 428.75,73.28 430.65,75.93 432.55,78.41 434.45,80.51 436.35,82.55 438.25,84.70 440.15,86.72 442.05,88.34 443.95,90.21 445.85,92.17 447.75,92.99 449.65,94.29 451.55,93.85 453.45,94.89 455.35,96.00 457.25,97.63 459.15,98.48 461.05,99.47 462.95,98.62 464.85,98.99 466.75,100.20 468.65,100.80 470.55,100.31 472.45,101.58 474.35,103.01 476.25,103.01 478.15,103.01 480.05,103.45 481.95,102.54 483.85,103.12 485.75,103.16 487.65,102.47 489.55,102.85 491.45,102.40 493.35,103.24 495.25,103.70 497.15,103.81 499.05,102.29 500.95,102.87 502.85,102.78 504.75,104.25 506.65,102.18 508.55,103.33 510.45,104.31" fill="none" stroke="#111" stroke-width="0.8" stroke-linejoin="round"/>
<circle cx="398.60" cy="105.30" r="1.6" fill="#000"/>
<circle cx="400.25" cy="105.30" r="1.6" fill="#000"/>
<circle cx="402.15" cy="105.30" r="1.6" fill="#000"/>
<circle cx="404.05" cy="105.26" r="1.6" fill="#000"/>
<circle cx="405.95" cy="105.01" r="1.6" fill="#000"/>
<circle cx="407.85" cy="104.48" r="1.6" fill="#000"/>
<circle cx="409.75" cy="103.16" r="1.6" fill="#000"/>
<circle cx="411.65" cy="101.12" r="1.6" fill="#000"/>
<circle cx="413.55" cy="96.74" r="1.6" fill="#000"/>
<circle cx="415.45" cy="90.16" r="1.6" fill="#000"/>
<circle cx="417.35" cy="83.41" r="1.6" fill="#000"/>
<circle cx="419.25" cy="77.29" r="1.6" fill="#000"/>
<circle cx="421.15" cy="74.21" r="1.6" fill="#000"/>
<circle cx="423.05" cy="71.73" r="1.6" fill="#000"/>
<circle cx="424.95" cy="70.92" r="1.6" fill="#000"/>
<circle cx="426.85" cy="71.45" r="1.6" fill="#000"/>
<circle cx="428.75" cy="73.28" r="1.6" fill="#000"/>
<circle cx="430.65" cy="75.93" r="1.6" fill="#000"/>
<circle cx="432.55" cy="78.41" r="1.6" fill="#000"/>
<circle cx="434.45" cy="80.51" r="1.6" fill="#000"/>
<circle cx="436.35" cy="82.55" r="1.6" fill="#000"/>
<circle cx="438.25" cy="84.70" r="1.6" fill="#000"/>
<circle cx="440.15" cy="86.72" r="1.6" fill="#000"/>
<circle cx="442.05" cy="88.34" r="1.6" fill="#000"/>
<circle cx="443.95" cy="90.21" r="1.6" fill="#000"/>
<circle cx="445.85" cy="92.17" r="1.6" fill="#000"/>
<circle cx="447.75" cy="92.99" r="1.6" fill="#000"/>
<circle cx="449.65" cy="94.29" r="1.6" fill="#000"/>
<circle cx="451.55" cy="93.85" r="1.6" fill="#000"/>
<circle cx="453.45" cy="94.89" r="1.6" fill="#000"/>
<circle cx="455.35" cy="96.00" r="1.6" fill="#000"/>
<circle cx="457.25" cy="97.63" r="1.6" fill="#000"/>
<circle cx="459.15" cy="98.48" r="1.6" fill="#000"/>
<circle cx="461.05" cy="99.47" r="1.6" fill="#000"/>
<circle cx="462.95" cy="98.62" r="1.6" fill="#000"/>
<circle cx="464.85" cy="98.99" r="1.6" fill="#000"/>
<circle cx="466.75" cy="100.20" r="1.6" fill="#000"/>
<circle cx="468.65" cy="100.80" r="1.6" fill="#000"/>
<circle cx="470.55" cy="100.31" r="1.6" fill="#000"/>
<circle cx="472.45" cy="101.58" r="1.6" fill="#000"/>
<circle cx="474.35" cy="103.01" r="1.6" fill="#000"/>
<circle cx="476.25" cy="103.01" r="1.6" fill="#000"/>
<circle cx="478.15" cy="103.01" r="1.6" fill="#000"/>
<circle cx="480.05" cy="103.45" r="1.6" fill="#000"/>
<circle cx="481.95" cy="102.54" r="1.6" fill="#000"/>
<circle cx="483.85" cy="103.12" r="1.6" fill="#000"/>
<circle cx="485.75" cy="103.16" r="1.6" fill="#000"/>
<circle cx="487.65" cy="102.47" r="1.6" fill="#000"/>
<circle cx="489.55" cy="102.85" r="1.6" fill="#000"/>
<circle cx="491.45" cy="102.40" r="1.6" fill="#000"/>
<circle cx="493.35" cy="103.24" r="1.6" fill="#000"/>
<circle cx="495.25" cy="103.70" r="1.6" fill="#000"/>
<circle cx="497.15" cy="103.81" r="1.6" fill="#000"/>
<circle cx="499.05" cy="102.29" r="1.6" fill="#000"/>
<circle cx="500.95" cy="102.87" r="1.6" fill="#000"/>
<circle cx="502.85" cy="102.78" r="1.6" fill="#000"/>
<circle cx="504.75" cy="104.25" r="1.6" fill="#000"/>
<circle cx="506.65" cy="102.18" r="1.6" fill="#000"/>
<circle cx="508.55" cy="103.33" r="1.6" fill="#000"/>
<circle cx="510.45" cy="104.31" r="1.6" fill="#000"/>
<rect x="34.85" y="151.60" width="113.65" height="80.25" fill="none" stroke="#2a2a2a" stroke-width="1"/>
<line x1="32.25" x2="34.85" y1="151.60" y2="151.60" stroke="#2a2a2a" stroke-width="0.9"/>
<line x1="32.25" x2="34.85" y1="172.00" y2="172.00" stroke="#2a2a2a" stroke-width="0.9"/>
<line x1="32.25" x2="34.85" y1="192.10" y2="192.10" stroke="#2a2a2a" stroke-width="0.9"/>
<line x1="32.25" x2="34.85" y1="212.40" y2="212.40" stroke="#2a2a2a" stroke-width="0.9"/>
<line x1="32.25" x2="34.85" y1="231.85" y2="231.85" stroke="#2a2a2a" stroke-width="0.9"/>
<polyline points="36.25,231.59 38.15,230.79 40.05,229.14 41.95,229.10 43.85,229.07 45.75,228.51 47.65,226.85 49.55,225.05 51.45,222.97 53.35,220.79 55.25,217.92 57.15,215.37 59.05,213.45 60.95,211.55 62.85,209.73 64.75,208.02 66.65,208.29 68.55,209.06 70.45,209.44 72.35,209.79 74.25,210.95 76.15,211.04 78.05,210.98 79.95,212.38 81.85,213.88 83.75,214.42 85.65,214.66 87.55,215.29 89.45,217.13 91.35,218.70 93.25,219.93 95.15,220.56 97.05,220.68 98.95,221.59 100.85,223.04 102.75,223.73 104.65,224.90 106.55,224.48 108.45,224.40 110.35,225.74 112.25,226.48 114.15,226.64 116.05,228.16 117.95,227.54 119.85,227.45 121.75,227.90 123.65,228.26 125.55,228.99 127.45,229.28 129.35,229.80 131.25,230.39 133.15,230.74 135.05,230.35 136.95,229.57 138.85,230.71 140.75,229.92 142.65,231.83 144.55,231.58 146.45,230.30" fill="none" stroke="#111" stroke-width="0.8" stroke-linejoin="round"/>
<circle cx="36.25" cy="231.59" r="1.25" fill="#fff" stroke="#000" stroke-width="0.9"/>
<circle cx="38.15" cy="230.79" r="1.25" fill="#fff" stroke="#000" stroke-width="0.9"/>
<circle cx="40.05" cy="229.14" r="1.25" fill="#fff" stroke="#000" stroke-width="0.9"/>
<circle cx="41.95" cy="229.10" r="1.25" fill="#fff" stroke="#000" stroke-width="0.9"/>
<circle cx="43.85" cy="229.07" r="1.25" fill="#fff" stroke="#000" stroke-width="0.9"/>
<circle cx="45.75" cy="228.51" r="1.25" fill="#fff" stroke="#000" stroke-width="0.9"/>
<circle cx="47.65" cy="226.85" r="1.25" fill="#fff" stroke="#000" stroke-width="0.9"/>
<circle cx="49.55" cy="225.05" r="1.25" fill="#fff" stroke="#000" stroke-width="0.9"/>
<circle cx="51.45" cy="222.97" r="1.25" fill="#fff" stroke="#000" stroke-width="0.9"/>
<circle cx="53.35" cy="220.79" r="1.25" fill="#fff" stroke="#000" stroke-width="0.9"/>
<circle cx="55.25" cy="217.92" r="1.25" fill="#fff" stroke="#000" stroke-width="0.9"/>
<circle cx="57.15" cy="215.37" r="1.25" fill="#fff" stroke="#000" stroke-width="0.9"/>
<circle cx="59.05" cy="213.45" r="1.25" fill="#fff" stroke="#000" stroke-width="0.9"/>
<circle cx="60.95" cy="211.55" r="1.25" fill="#fff" stroke="#000" stroke-width="0.9"/>
<circle cx="62.85" cy="209.73" r="1.25" fill="#fff" stroke="#000" stroke-width="0.9"/>
<circle cx="64.75" cy="208.02" r="1.25" fill="#fff" stroke="#000" stroke-width="0.9"/>
<circle cx="66.65" cy="208.29" r="1.25" fill="#fff" stroke="#000" stroke-width="0.9"/>
<circle cx="68.55" cy="209.06" r="1.25" fill="#fff" stroke="#000" stroke-width="0.9"/>
<circle cx="70.45" cy="209.44" r="1.25" fill="#fff" stroke="#000" stroke-width="0.9"/>
<circle cx="72.35" cy="209.79" r="1.25" fill="#fff" stroke="#000" stroke-width="0.9"/>
<circle cx="74.25" cy="210.95" r="1.25" fill="#fff" stroke="#000" stroke-width="0.9"/>
<circle cx="76.15" cy="211.04" r="1.25" fill="#fff" stroke="#000" stroke-width="0.9"/>
<circle cx="78.05" cy="210.98" r="1.25" fill="#fff" stroke="#000" stroke-width="0.9"/>
<circle cx="79.95" cy="212.38" r="1.25" fill="#fff" stroke="#000" stroke-width="0.9"/>
<circle cx="81.85" cy="213.88" r="1.25" fill="#fff" stroke="#000" stroke-width="0.9"/>
<circle cx="83.75" cy="214.42" r="1.25" fill="#fff" stroke="#000" stroke-width="0.9"/>
<circle cx="85.65" cy="214.66" r="1.25" fill="#fff" stroke="#000" stroke-width="0.9"/>
<circle cx="87.55" cy="215.29" r="1.25" fill="#fff" stroke="#000" stroke-width="0.9"/>
<circle cx="89.45" cy="217.13" r="1.25" fill="#fff" stroke="#000" stroke-width="0.9"/>
<circle cx="91.35" cy="218.70" r="1.25" fill="#fff" stroke="#000" stroke-width="0.9"/>
<circle cx="93.25" cy="219.93" r="1.25" fill="#fff" stroke="#000" stroke-width="0.9"/>
<circle cx="95.15" cy="220.56" r="1.25" fill="#fff" stroke="#000" stroke-width="0.9"/>
<circle cx="97.05" cy="220.68" r="1.25" fill="#fff" stroke="#000" stroke-width="0.9"/>
<circle cx="98.95" cy="221.59" r="1.25" fill="#fff" stroke="#000" stroke-width="0.9"/>
<circle cx="100.85" cy="223.04" r="1.25" fill="#fff" stroke="#000" stroke-width="0.9"/>
<circle cx="102.75" cy="223.73" r="1.25" fill="#fff" stroke="#000" stroke-width="0.9"/>
<circle cx="104.65" cy="224.90" r="1.25" fill="#fff" stroke="#000" stroke-width="0.9"/>
<circle cx="106.55" cy="224.48" r="1.25" fill="#fff" stroke="#000" stroke-width="0.9"/>
<circle cx="108.45" cy="224.40" r="1.25" fill="#fff" stroke="#000" stroke-width="0.9"/>
<circle cx="110.35" cy="225.74" r="1.25" fill="#fff" stroke="#000" stroke-width="0.9"/>
<circle cx="112.25" cy="226.48" r="1.25" fill="#fff" stroke="#000" stroke-width="0.9"/>
<circle cx="114.15" cy="226.64" r="1.25" fill="#fff" stroke="#000" stroke-width="0.9"/>
<circle cx="116.05" cy="228.16" r="1.25" fill="#fff" stroke="#000" stroke-width="0.9"/>
<circle cx="117.95" cy="227.54" r="1.25" fill="#fff" stroke="#000" stroke-width="0.9"/>
<circle cx="119.85" cy="227.45" r="1.25" fill="#fff" stroke="#000" stroke-width="0.9"/>
<circle cx="121.75" cy="227.90" r="1.25" fill="#fff" stroke="#000" stroke-width="0.9"/>
<circle cx="123.65" cy="228.26" r="1.25" fill="#fff" stroke="#000" stroke-width="0.9"/>
<circle cx="125.55" cy="228.99" r="1.25" fill="#fff" stroke="#000" stroke-width="0.9"/>
<circle cx="127.45" cy="229.28" r="1.25" fill="#fff" stroke="#000" stroke-width="0.9"/>
<circle cx="129.35" cy="229.80" r="1.25" fill="#fff" stroke="#000" stroke-width="0.9"/>
<circle cx="131.25" cy="230.39" r="1.25" fill="#fff" stroke="#000" stroke-width="0.9"/>
<circle cx="133.15" cy="230.74" r="1.25" fill="#fff" stroke="#000" stroke-width="0.9"/>
<circle cx="135.05" cy="230.35" r="1.25" fill="#fff" stroke="#000" stroke-width="0.9"/>
<circle cx="136.95" cy="229.57" r="1.25" fill="#fff" stroke="#000" stroke-width="0.9"/>
<circle cx="138.85" cy="230.71" r="1.25" fill="#fff" stroke="#000" stroke-width="0.9"/>
<circle cx="140.75" cy="229.92" r="1.25" fill="#fff" stroke="#000" stroke-width="0.9"/>
<circle cx="142.65" cy="231.83" r="1.25" fill="#fff" stroke="#000" stroke-width="0.9"/>
<circle cx="144.55" cy="231.58" r="1.25" fill="#fff" stroke="#000" stroke-width="0.9"/>
<circle cx="146.45" cy="230.30" r="1.25" fill="#fff" stroke="#000" stroke-width="0.9"/>
<polyline points="36.10,230.72 38.00,228.34 39.90,225.86 41.80,222.98 43.70,217.88 45.60,210.48 47.50,201.25 49.40,193.62 51.30,185.48 53.20,177.55 55.10,171.99 57.00,168.50 58.90,166.59 60.80,165.57 62.70,165.10 64.60,166.59 66.50,168.59 68.40,170.66 70.30,173.03 72.20,175.98 74.10,178.61 76.00,181.07 77.90,184.74 79.80,188.32 81.70,191.57 83.60,194.11 85.50,198.73 87.40,201.13 89.30,203.91 91.20,204.33 93.10,208.84 95.00,213.07 96.90,212.19 98.80,212.39 100.70,215.01 102.60,216.51 104.50,216.59 106.40,218.86 108.30,219.90 110.20,222.08 112.10,223.29 114.00,223.19 115.90,224.46 117.80,224.41 119.70,225.22 121.60,226.29 123.50,226.74 125.40,224.21 127.30,226.17 129.20,226.21 131.10,226.71 133.00,229.12 134.90,229.06 136.80,228.64 138.70,227.41 140.60,230.99 142.50,230.62 144.40,227.38 146.30,229.87 148.20,229.13" fill="none" stroke="#111" stroke-width="0.8" stroke-linejoin="round"/>
<circle cx="36.10" cy="230.72" r="1.6" fill="#000"/>
<circle cx="38.00" cy="228.34" r="1.6" fill="#000"/>
<circle cx="39.90" cy="225.86" r="1.6" fill="#000"/>
<circle cx="41.80" cy="222.98" r="1.6" fill="#000"/>
<circle cx="43.70" cy="217.88" r="1.6" fill="#000"/>
<circle cx="45.60" cy="210.48" r="1.6" fill="#000"/>
<circle cx="47.50" cy="201.25" r="1.6" fill="#000"/>
<circle cx="49.40" cy="193.62" r="1.6" fill="#000"/>
<circle cx="51.30" cy="185.48" r="1.6" fill="#000"/>
<circle cx="53.20" cy="177.55" r="1.6" fill="#000"/>
<circle cx="55.10" cy="171.99" r="1.6" fill="#000"/>
<circle cx="57.00" cy="168.50" r="1.6" fill="#000"/>
<circle cx="58.90" cy="166.59" r="1.6" fill="#000"/>
<circle cx="60.80" cy="165.57" r="1.6" fill="#000"/>
<circle cx="62.70" cy="165.10" r="1.6" fill="#000"/>
<circle cx="64.60" cy="166.59" r="1.6" fill="#000"/>
<circle cx="66.50" cy="168.59" r="1.6" fill="#000"/>
<circle cx="68.40" cy="170.66" r="1.6" fill="#000"/>
<circle cx="70.30" cy="173.03" r="1.6" fill="#000"/>
<circle cx="72.20" cy="175.98" r="1.6" fill="#000"/>
<circle cx="74.10" cy="178.61" r="1.6" fill="#000"/>
<circle cx="76.00" cy="181.07" r="1.6" fill="#000"/>
<circle cx="77.90" cy="184.74" r="1.6" fill="#000"/>
<circle cx="79.80" cy="188.32" r="1.6" fill="#000"/>
<circle cx="81.70" cy="191.57" r="1.6" fill="#000"/>
<circle cx="83.60" cy="194.11" r="1.6" fill="#000"/>
<circle cx="85.50" cy="198.73" r="1.6" fill="#000"/>
<circle cx="87.40" cy="201.13" r="1.6" fill="#000"/>
<circle cx="89.30" cy="203.91" r="1.6" fill="#000"/>
<circle cx="91.20" cy="204.33" r="1.6" fill="#000"/>
<circle cx="93.10" cy="208.84" r="1.6" fill="#000"/>
<circle cx="95.00" cy="213.07" r="1.6" fill="#000"/>
<circle cx="96.90" cy="212.19" r="1.6" fill="#000"/>
<circle cx="98.80" cy="212.39" r="1.6" fill="#000"/>
<circle cx="100.70" cy="215.01" r="1.6" fill="#000"/>
<circle cx="102.60" cy="216.51" r="1.6" fill="#000"/>
<circle cx="104.50" cy="216.59" r="1.6" fill="#000"/>
<circle cx="106.40" cy="218.86" r="1.6" fill="#000"/>
<circle cx="108.30" cy="219.90" r="1.6" fill="#000"/>
<circle cx="110.20" cy="222.08" r="1.6" fill="#000"/>
<circle cx="112.10" cy="223.29" r="1.6" fill="#000"/>
<circle cx="114.00" cy="223.19" r="1.6" fill="#000"/>
<circle cx="115.90" cy="224.46" r="1.6" fill="#000"/>
<circle cx="117.80" cy="224.41" r="1.6" fill="#000"/>
<circle cx="119.70" cy="225.22" r="1.6" fill="#000"/>
<circle cx="121.60" cy="226.29" r="1.6" fill="#000"/>
<circle cx="123.50" cy="226.74" r="1.6" fill="#000"/>
<circle cx="125.40" cy="224.21" r="1.6" fill="#000"/>
<circle cx="127.30" cy="226.17" r="1.6" fill="#000"/>
<circle cx="129.20" cy="226.21" r="1.6" fill="#000"/>
<circle cx="131.10" cy="226.71" r="1.6" fill="#000"/>
<circle cx="133.00" cy="229.12" r="1.6" fill="#000"/>
<circle cx="134.90" cy="229.06" r="1.6" fill="#000"/>
<circle cx="136.80" cy="228.64" r="1.6" fill="#000"/>
<circle cx="138.70" cy="227.41" r="1.6" fill="#000"/>
<circle cx="140.60" cy="230.99" r="1.6" fill="#000"/>
<circle cx="142.50" cy="230.62" r="1.6" fill="#000"/>
<circle cx="144.40" cy="227.38" r="1.6" fill="#000"/>
<circle cx="146.30" cy="229.87" r="1.6" fill="#000"/>
<circle cx="148.20" cy="229.13" r="1.6" fill="#000"/>
<rect x="156.50" y="151.60" width="114.25" height="80.25" fill="none" stroke="#2a2a2a" stroke-width="1"/>
<line x1="153.90" x2="156.50" y1="151.60" y2="151.60" stroke="#2a2a2a" stroke-width="0.9"/>
<line x1="153.90" x2="156.50" y1="172.00" y2="172.00" stroke="#2a2a2a" stroke-width="0.9"/>
<line x1="153.90" x2="156.50" y1="192.10" y2="192.10" stroke="#2a2a2a" stroke-width="0.9"/>
<line x1="153.90" x2="156.50" y1="212.40" y2="212.40" stroke="#2a2a2a" stroke-width="0.9"/>
<line x1="153.90" x2="156.50" y1="231.85" y2="231.85" stroke="#2a2a2a" stroke-width="0.9"/>
<polyline points="158.20,231.56 160.10,231.12 162.00,230.79 163.90,230.36 165.80,229.33 167.70,227.59 169.60,225.32 171.50,222.94 173.40,219.77 175.30,216.67 177.20,213.45 179.10,210.93 181.00,208.59 182.90,207.31 184.80,207.30 186.70,207.03 188.60,207.01 190.50,207.97 192.40,208.90 194.30,210.20 196.20,211.44 198.10,212.33 200.00,212.67 201.90,213.36 203.80,215.64 205.70,217.13 207.60,218.12 209.50,219.11 211.40,219.80 213.30,220.41 215.20,221.56 217.10,222.17 219.00,222.25 220.90,223.09 222.80,224.08 224.70,225.06 226.60,226.62 228.50,227.11 230.40,226.85 232.30,226.29 234.20,226.18 236.10,227.20 238.00,227.31 239.90,226.96 241.80,228.39 243.70,229.01 245.60,229.79 247.50,229.65 249.40,230.19 251.30,230.57 253.20,231.01 255.10,231.43 257.00,231.36 258.90,230.73 260.80,231.01 262.70,231.32 264.60,231.39 266.50,231.59 268.40,231.15 270.30,231.57" fill="none" stroke="#111" stroke-width="0.8" stroke-linejoin="round"/>
<circle cx="158.20" cy="231.56" r="1.25" fill="#fff" stroke="#000" stroke-width="0.9"/>
<circle cx="160.10" cy="231.12" r="1.25" fill="#fff" stroke="#000" stroke-width="0.9"/>
<circle cx="162.00" cy="230.79" r="1.25" fill="#fff" stroke="#000" stroke-width="0.9"/>
<circle cx="163.90" cy="230.36" r="1.25" fill="#fff" stroke="#000" stroke-width="0.9"/>
<circle cx="165.80" cy="229.33" r="1.25" fill="#fff" stroke="#000" stroke-width="0.9"/>
<circle cx="167.70" cy="227.59" r="1.25" fill="#fff" stroke="#000" stroke-width="0.9"/>
<circle cx="169.60" cy="225.32" r="1.25" fill="#fff" stroke="#000" stroke-width="0.9"/>
<circle cx="171.50" cy="222.94" r="1.25" fill="#fff" stroke="#000" stroke-width="0.9"/>
<circle cx="173.40" cy="219.77" r="1.25" fill="#fff" stroke="#000" stroke-width="0.9"/>
<circle cx="175.30" cy="216.67" r="1.25" fill="#fff" stroke="#000" stroke-width="0.9"/>
<circle cx="177.20" cy="213.45" r="1.25" fill="#fff" stroke="#000" stroke-width="0.9"/>
<circle cx="179.10" cy="210.93" r="1.25" fill="#fff" stroke="#000" stroke-width="0.9"/>
<circle cx="181.00" cy="208.59" r="1.25" fill="#fff" stroke="#000" stroke-width="0.9"/>
<circle cx="182.90" cy="207.31" r="1.25" fill="#fff" stroke="#000" stroke-width="0.9"/>
<circle cx="184.80" cy="207.30" r="1.25" fill="#fff" stroke="#000" stroke-width="0.9"/>
<circle cx="186.70" cy="207.03" r="1.25" fill="#fff" stroke="#000" stroke-width="0.9"/>
<circle cx="188.60" cy="207.01" r="1.25" fill="#fff" stroke="#000" stroke-width="0.9"/>
<circle cx="190.50" cy="207.97" r="1.25" fill="#fff" stroke="#000" stroke-width="0.9"/>
<circle cx="192.40" cy="208.90" r="1.25" fill="#fff" stroke="#000" stroke-width="0.9"/>
<circle cx="194.30" cy="210.20" r="1.25" fill="#fff" stroke="#000" stroke-width="0.9"/>
<circle cx="196.20" cy="211.44" r="1.25" fill="#fff" stroke="#000" stroke-width="0.9"/>
<circle cx="198.10" cy="212.33" r="1.25" fill="#fff" stroke="#000" stroke-width="0.9"/>
<circle cx="200.00" cy="212.67" r="1.25" fill="#fff" stroke="#000" stroke-width="0.9"/>
<circle cx="201.90" cy="213.36" r="1.25" fill="#fff" stroke="#000" stroke-width="0.9"/>
<circle cx="203.80" cy="215.64" r="1.25" fill="#fff" stroke="#000" stroke-width="0.9"/>
<circle cx="205.70" cy="217.13" r="1.25" fill="#fff" stroke="#000" stroke-width="0.9"/>
<circle cx="207.60" cy="218.12" r="1.25" fill="#fff" stroke="#000" stroke-width="0.9"/>
<circle cx="209.50" cy="219.11" r="1.25" fill="#fff" stroke="#000" stroke-width="0.9"/>
<circle cx="211.40" cy="219.80" r="1.25" fill="#fff" stroke="#000" stroke-width="0.9"/>
<circle cx="213.30" cy="220.41" r="1.25" fill="#fff" stroke="#000" stroke-width="0.9"/>
<circle cx="215.20" cy="221.56" r="1.25" fill="#fff" stroke="#000" stroke-width="0.9"/>
<circle cx="217.10" cy="222.17" r="1.25" fill="#fff" stroke="#000" stroke-width="0.9"/>
<circle cx="219.00" cy="222.25" r="1.25" fill="#fff" stroke="#000" stroke-width="0.9"/>
<circle cx="220.90" cy="223.09" r="1.25" fill="#fff" stroke="#000" stroke-width="0.9"/>
<circle cx="222.80" cy="224.08" r="1.25" fill="#fff" stroke="#000" stroke-width="0.9"/>
<circle cx="224.70" cy="225.06" r="1.25" fill="#fff" stroke="#000" stroke-width="0.9"/>
<circle cx="226.60" cy="226.62" r="1.25" fill="#fff" stroke="#000" stroke-width="0.9"/>
<circle cx="228.50" cy="227.11" r="1.25" fill="#fff" stroke="#000" stroke-width="0.9"/>
<circle cx="230.40" cy="226.85" r="1.25" fill="#fff" stroke="#000" stroke-width="0.9"/>
<circle cx="232.30" cy="226.29" r="1.25" fill="#fff" stroke="#000" stroke-width="0.9"/>
<circle cx="234.20" cy="226.18" r="1.25" fill="#fff" stroke="#000" stroke-width="0.9"/>
<circle cx="236.10" cy="227.20" r="1.25" fill="#fff" stroke="#000" stroke-width="0.9"/>
<circle cx="238.00" cy="227.31" r="1.25" fill="#fff" stroke="#000" stroke-width="0.9"/>
<circle cx="239.90" cy="226.96" r="1.25" fill="#fff" stroke="#000" stroke-width="0.9"/>
<circle cx="241.80" cy="228.39" r="1.25" fill="#fff" stroke="#000" stroke-width="0.9"/>
<circle cx="243.70" cy="229.01" r="1.25" fill="#fff" stroke="#000" stroke-width="0.9"/>
<circle cx="245.60" cy="229.79" r="1.25" fill="#fff" stroke="#000" stroke-width="0.9"/>
<circle cx="247.50" cy="229.65" r="1.25" fill="#fff" stroke="#000" stroke-width="0.9"/>
<circle cx="249.40" cy="230.19" r="1.25" fill="#fff" stroke="#000" stroke-width="0.9"/>
<circle cx="251.30" cy="230.57" r="1.25" fill="#fff" stroke="#000" stroke-width="0.9"/>
<circle cx="253.20" cy="231.01" r="1.25" fill="#fff" stroke="#000" stroke-width="0.9"/>
<circle cx="255.10" cy="231.43" r="1.25" fill="#fff" stroke="#000" stroke-width="0.9"/>
<circle cx="257.00" cy="231.36" r="1.25" fill="#fff" stroke="#000" stroke-width="0.9"/>
<circle cx="258.90" cy="230.73" r="1.25" fill="#fff" stroke="#000" stroke-width="0.9"/>
<circle cx="260.80" cy="231.01" r="1.25" fill="#fff" stroke="#000" stroke-width="0.9"/>
<circle cx="262.70" cy="231.32" r="1.25" fill="#fff" stroke="#000" stroke-width="0.9"/>
<circle cx="264.60" cy="231.39" r="1.25" fill="#fff" stroke="#000" stroke-width="0.9"/>
<circle cx="266.50" cy="231.59" r="1.25" fill="#fff" stroke="#000" stroke-width="0.9"/>
<circle cx="268.40" cy="231.15" r="1.25" fill="#fff" stroke="#000" stroke-width="0.9"/>
<circle cx="270.30" cy="231.57" r="1.25" fill="#fff" stroke="#000" stroke-width="0.9"/>
<polyline points="158.15,230.89 160.05,229.62 161.95,227.96 163.85,224.47 165.75,220.55 167.65,215.42 169.55,207.69 171.45,198.77 173.35,192.67 175.25,186.87 177.15,182.85 179.05,181.46 180.95,181.10 182.85,181.10 184.75,181.10 186.65,182.45 188.55,184.58 190.45,187.03 192.35,189.90 194.25,192.77 196.15,195.42 198.05,197.66 199.95,200.01 201.85,201.98 203.75,203.75 205.65,206.13 207.55,208.01 209.45,209.31 211.35,210.71 213.25,212.19 215.15,214.61 217.05,215.86 218.95,217.09 220.85,219.05 222.75,220.07 224.65,220.63 226.55,220.70 228.45,222.30 230.35,223.90 232.25,223.19 234.15,222.93 236.05,224.22 237.95,224.79 239.85,225.19 241.75,226.57 243.65,227.07 245.55,227.01 247.45,228.36 249.35,227.53 251.25,228.12 253.15,228.90 255.05,229.16 256.95,228.98 258.85,227.65 260.75,228.09 262.65,230.13 264.55,228.52 266.45,230.43 268.35,231.50 270.25,232.35" fill="none" stroke="#111" stroke-width="0.8" stroke-linejoin="round"/>
<circle cx="158.15" cy="230.89" r="1.6" fill="#000"/>
<circle cx="160.05" cy="229.62" r="1.6" fill="#000"/>
<circle cx="161.95" cy="227.96" r="1.6" fill="#000"/>
<circle cx="163.85" cy="224.47" r="1.6" fill="#000"/>
<circle cx="165.75" cy="220.55" r="1.6" fill="#000"/>
<circle cx="167.65" cy="215.42" r="1.6" fill="#000"/>
<circle cx="169.55" cy="207.69" r="1.6" fill="#000"/>
<circle cx="171.45" cy="198.77" r="1.6" fill="#000"/>
<circle cx="173.35" cy="192.67" r="1.6" fill="#000"/>
<circle cx="175.25" cy="186.87" r="1.6" fill="#000"/>
<circle cx="177.15" cy="182.85" r="1.6" fill="#000"/>
<circle cx="179.05" cy="181.46" r="1.6" fill="#000"/>
<circle cx="180.95" cy="181.10" r="1.6" fill="#000"/>
<circle cx="182.85" cy="181.10" r="1.6" fill="#000"/>
<circle cx="184.75" cy="181.10" r="1.6" fill="#000"/>
<circle cx="186.65" cy="182.45" r="1.6" fill="#000"/>
<circle cx="188.55" cy="184.58" r="1.6" fill="#000"/>
<circle cx="190.45" cy="187.03" r="1.6" fill="#000"/>
<circle cx="192.35" cy="189.90" r="1.6" fill="#000"/>
<circle cx="194.25" cy="192.77" r="1.6" fill="#000"/>
<circle cx="196.15" cy="195.42" r="1.6" fill="#000"/>
<circle cx="198.05" cy="197.66" r="1.6" fill="#000"/>
<circle cx="199.95" cy="200.01" r="1.6" fill="#000"/>
<circle cx="201.85" cy="201.98" r="1.6" fill="#000"/>
<circle cx="203.75" cy="203.75" r="1.6" fill="#000"/>
<circle cx="205.65" cy="206.13" r="1.6" fill="#000"/>
<circle cx="207.55" cy="208.01" r="1.6" fill="#000"/>
<circle cx="209.45" cy="209.31" r="1.6" fill="#000"/>
<circle cx="211.35" cy="210.71" r="1.6" fill="#000"/>
<circle cx="213.25" cy="212.19" r="1.6" fill="#000"/>
<circle cx="215.15" cy="214.61" r="1.6" fill="#000"/>
<circle cx="217.05" cy="215.86" r="1.6" fill="#000"/>
<circle cx="218.95" cy="217.09" r="1.6" fill="#000"/>
<circle cx="220.85" cy="219.05" r="1.6" fill="#000"/>
<circle cx="222.75" cy="220.07" r="1.6" fill="#000"/>
<circle cx="224.65" cy="220.63" r="1.6" fill="#000"/>
<circle cx="226.55" cy="220.70" r="1.6" fill="#000"/>
<circle cx="228.45" cy="222.30" r="1.6" fill="#000"/>
<circle cx="230.35" cy="223.90" r="1.6" fill="#000"/>
<circle cx="232.25" cy="223.19" r="1.6" fill="#000"/>
<circle cx="234.15" cy="222.93" r="1.6" fill="#000"/>
<circle cx="236.05" cy="224.22" r="1.6" fill="#000"/>
<circle cx="237.95" cy="224.79" r="1.6" fill="#000"/>
<circle cx="239.85" cy="225.19" r="1.6" fill="#000"/>
<circle cx="241.75" cy="226.57" r="1.6" fill="#000"/>
<circle cx="243.65" cy="227.07" r="1.6" fill="#000"/>
<circle cx="245.55" cy="227.01" r="1.6" fill="#000"/>
<circle cx="247.45" cy="228.36" r="1.6" fill="#000"/>
<circle cx="249.35" cy="227.53" r="1.6" fill="#000"/>
<circle cx="251.25" cy="228.12" r="1.6" fill="#000"/>
<circle cx="253.15" cy="228.90" r="1.6" fill="#000"/>
<circle cx="255.05" cy="229.16" r="1.6" fill="#000"/>
<circle cx="256.95" cy="228.98" r="1.6" fill="#000"/>
<circle cx="258.85" cy="227.65" r="1.6" fill="#000"/>
<circle cx="260.75" cy="228.09" r="1.6" fill="#000"/>
<circle cx="262.65" cy="230.13" r="1.6" fill="#000"/>
<circle cx="264.55" cy="228.52" r="1.6" fill="#000"/>
<circle cx="266.45" cy="230.43" r="1.6" fill="#000"/>
<circle cx="268.35" cy="231.50" r="1.6" fill="#000"/>
<circle cx="270.25" cy="232.35" r="1.6" fill="#000"/>
<rect x="277.60" y="151.60" width="113.90" height="80.25" fill="none" stroke="#2a2a2a" stroke-width="1"/>
<line x1="275.00" x2="277.60" y1="151.60" y2="151.60" stroke="#2a2a2a" stroke-width="0.9"/>
<line x1="275.00" x2="277.60" y1="172.00" y2="172.00" stroke="#2a2a2a" stroke-width="0.9"/>
<line x1="275.00" x2="277.60" y1="192.10" y2="192.10" stroke="#2a2a2a" stroke-width="0.9"/>
<line x1="275.00" x2="277.60" y1="212.40" y2="212.40" stroke="#2a2a2a" stroke-width="0.9"/>
<line x1="275.00" x2="277.60" y1="231.85" y2="231.85" stroke="#2a2a2a" stroke-width="0.9"/>
<polyline points="278.35,231.46 280.25,230.50 282.15,229.79 284.05,228.94 285.95,226.83 287.85,222.86 289.75,218.38 291.65,213.25 293.55,206.79 295.45,200.96 297.35,198.60 299.25,197.57 301.15,197.22 303.05,197.72 304.95,198.51 306.85,200.06 308.75,202.46 310.65,204.28 312.55,206.19 314.45,208.50 316.35,210.67 318.25,212.46 320.15,214.50 322.05,216.51 323.95,217.62 325.85,218.42 327.75,219.72 329.65,220.68 331.55,221.08 333.45,221.94 335.35,222.84 337.25,224.79 339.15,225.53 341.05,227.04 342.95,228.05 344.85,227.61 346.75,227.41 348.65,228.46 350.55,228.59 352.45,228.21 354.35,228.89 356.25,228.73 358.15,229.36 360.05,229.70 361.95,230.11 363.85,229.96 365.75,230.29 367.65,229.67 369.55,229.88 371.45,230.56 373.35,230.70 375.25,231.11 377.15,231.53 379.05,231.00 380.95,230.80 382.85,230.74 384.75,230.70 386.65,231.15 388.55,231.97 390.45,232.11" fill="none" stroke="#111" stroke-width="0.8" stroke-linejoin="round"/>
<circle cx="278.35" cy="231.46" r="1.25" fill="#fff" stroke="#000" stroke-width="0.9"/>
<circle cx="280.25" cy="230.50" r="1.25" fill="#fff" stroke="#000" stroke-width="0.9"/>
<circle cx="282.15" cy="229.79" r="1.25" fill="#fff" stroke="#000" stroke-width="0.9"/>
<circle cx="284.05" cy="228.94" r="1.25" fill="#fff" stroke="#000" stroke-width="0.9"/>
<circle cx="285.95" cy="226.83" r="1.25" fill="#fff" stroke="#000" stroke-width="0.9"/>
<circle cx="287.85" cy="222.86" r="1.25" fill="#fff" stroke="#000" stroke-width="0.9"/>
<circle cx="289.75" cy="218.38" r="1.25" fill="#fff" stroke="#000" stroke-width="0.9"/>
<circle cx="291.65" cy="213.25" r="1.25" fill="#fff" stroke="#000" stroke-width="0.9"/>
<circle cx="293.55" cy="206.79" r="1.25" fill="#fff" stroke="#000" stroke-width="0.9"/>
<circle cx="295.45" cy="200.96" r="1.25" fill="#fff" stroke="#000" stroke-width="0.9"/>
<circle cx="297.35" cy="198.60" r="1.25" fill="#fff" stroke="#000" stroke-width="0.9"/>
<circle cx="299.25" cy="197.57" r="1.25" fill="#fff" stroke="#000" stroke-width="0.9"/>
<circle cx="301.15" cy="197.22" r="1.25" fill="#fff" stroke="#000" stroke-width="0.9"/>
<circle cx="303.05" cy="197.72" r="1.25" fill="#fff" stroke="#000" stroke-width="0.9"/>
<circle cx="304.95" cy="198.51" r="1.25" fill="#fff" stroke="#000" stroke-width="0.9"/>
<circle cx="306.85" cy="200.06" r="1.25" fill="#fff" stroke="#000" stroke-width="0.9"/>
<circle cx="308.75" cy="202.46" r="1.25" fill="#fff" stroke="#000" stroke-width="0.9"/>
<circle cx="310.65" cy="204.28" r="1.25" fill="#fff" stroke="#000" stroke-width="0.9"/>
<circle cx="312.55" cy="206.19" r="1.25" fill="#fff" stroke="#000" stroke-width="0.9"/>
<circle cx="314.45" cy="208.50" r="1.25" fill="#fff" stroke="#000" stroke-width="0.9"/>
<circle cx="316.35" cy="210.67" r="1.25" fill="#fff" stroke="#000" stroke-width="0.9"/>
<circle cx="318.25" cy="212.46" r="1.25" fill="#fff" stroke="#000" stroke-width="0.9"/>
<circle cx="320.15" cy="214.50" r="1.25" fill="#fff" stroke="#000" stroke-width="0.9"/>
<circle cx="322.05" cy="216.51" r="1.25" fill="#fff" stroke="#000" stroke-width="0.9"/>
<circle cx="323.95" cy="217.62" r="1.25" fill="#fff" stroke="#000" stroke-width="0.9"/>
<circle cx="325.85" cy="218.42" r="1.25" fill="#fff" stroke="#000" stroke-width="0.9"/>
<circle cx="327.75" cy="219.72" r="1.25" fill="#fff" stroke="#000" stroke-width="0.9"/>
<circle cx="329.65" cy="220.68" r="1.25" fill="#fff" stroke="#000" stroke-width="0.9"/>
<circle cx="331.55" cy="221.08" r="1.25" fill="#fff" stroke="#000" stroke-width="0.9"/>
<circle cx="333.45" cy="221.94" r="1.25" fill="#fff" stroke="#000" stroke-width="0.9"/>
<circle cx="335.35" cy="222.84" r="1.25" fill="#fff" stroke="#000" stroke-width="0.9"/>
<circle cx="337.25" cy="224.79" r="1.25" fill="#fff" stroke="#000" stroke-width="0.9"/>
<circle cx="339.15" cy="225.53" r="1.25" fill="#fff" stroke="#000" stroke-width="0.9"/>
<circle cx="341.05" cy="227.04" r="1.25" fill="#fff" stroke="#000" stroke-width="0.9"/>
<circle cx="342.95" cy="228.05" r="1.25" fill="#fff" stroke="#000" stroke-width="0.9"/>
<circle cx="344.85" cy="227.61" r="1.25" fill="#fff" stroke="#000" stroke-width="0.9"/>
<circle cx="346.75" cy="227.41" r="1.25" fill="#fff" stroke="#000" stroke-width="0.9"/>
<circle cx="348.65" cy="228.46" r="1.25" fill="#fff" stroke="#000" stroke-width="0.9"/>
<circle cx="350.55" cy="228.59" r="1.25" fill="#fff" stroke="#000" stroke-width="0.9"/>
<circle cx="352.45" cy="228.21" r="1.25" fill="#fff" stroke="#000" stroke-width="0.9"/>
<circle cx="354.35" cy="228.89" r="1.25" fill="#fff" stroke="#000" stroke-width="0.9"/>
<circle cx="356.25" cy="228.73" r="1.25" fill="#fff" stroke="#000" stroke-width="0.9"/>
<circle cx="358.15" cy="229.36" r="1.25" fill="#fff" stroke="#000" stroke-width="0.9"/>
<circle cx="360.05" cy="229.70" r="1.25" fill="#fff" stroke="#000" stroke-width="0.9"/>
<circle cx="361.95" cy="230.11" r="1.25" fill="#fff" stroke="#000" stroke-width="0.9"/>
<circle cx="363.85" cy="229.96" r="1.25" fill="#fff" stroke="#000" stroke-width="0.9"/>
<circle cx="365.75" cy="230.29" r="1.25" fill="#fff" stroke="#000" stroke-width="0.9"/>
<circle cx="367.65" cy="229.67" r="1.25" fill="#fff" stroke="#000" stroke-width="0.9"/>
<circle cx="369.55" cy="229.88" r="1.25" fill="#fff" stroke="#000" stroke-width="0.9"/>
<circle cx="371.45" cy="230.56" r="1.25" fill="#fff" stroke="#000" stroke-width="0.9"/>
<circle cx="373.35" cy="230.70" r="1.25" fill="#fff" stroke="#000" stroke-width="0.9"/>
<circle cx="375.25" cy="231.11" r="1.25" fill="#fff" stroke="#000" stroke-width="0.9"/>
<circle cx="377.15" cy="231.53" r="1.25" fill="#fff" stroke="#000" stroke-width="0.9"/>
<circle cx="379.05" cy="231.00" r="1.25" fill="#fff" stroke="#000" stroke-width="0.9"/>
<circle cx="380.95" cy="230.80" r="1.25" fill="#fff" stroke="#000" stroke-width="0.9"/>
<circle cx="382.85" cy="230.74" r="1.25" fill="#fff" stroke="#000" stroke-width="0.9"/>
<circle cx="384.75" cy="230.70" r="1.25" fill="#fff" stroke="#000" stroke-width="0.9"/>
<circle cx="386.65" cy="231.15" r="1.25" fill="#fff" stroke="#000" stroke-width="0.9"/>
<circle cx="388.55" cy="231.97" r="1.25" fill="#fff" stroke="#000" stroke-width="0.9"/>
<circle cx="390.45" cy="232.11" r="1.25" fill="#fff" stroke="#000" stroke-width="0.9"/>
<polyline points="277.70,231.61 279.60,230.08 281.50,228.09 283.40,225.30 285.30,220.88 287.20,212.42 289.10,203.65 291.00,191.32 292.90,184.38 294.80,180.72 296.70,178.95 298.60,179.06 300.50,180.32 302.40,183.66 304.30,185.55 306.20,188.13 308.10,191.65 310.00,195.26 311.90,197.42 313.80,200.12 315.70,203.01 317.60,206.00 319.50,207.65 321.40,208.51 323.30,211.33 325.20,213.49 327.10,213.30 329.00,215.10 330.90,218.64 332.80,220.35 334.70,220.64 336.60,221.24 338.50,220.78 340.40,222.67 342.30,222.02 344.20,222.21 346.10,223.97 348.00,225.84 349.90,226.51 351.80,226.09 353.70,226.64 355.60,227.20 357.50,228.30 359.40,228.90 361.30,227.60 363.20,226.95 365.10,226.96 367.00,227.24 368.90,228.19 370.80,227.76 372.70,228.60 374.60,228.71 376.50,228.42 378.40,226.66 380.30,227.18 382.20,227.42 384.10,230.85 386.00,229.51 387.90,230.78 389.80,229.62" fill="none" stroke="#111" stroke-width="0.8" stroke-linejoin="round"/>
<circle cx="277.70" cy="231.61" r="1.6" fill="#000"/>
<circle cx="279.60" cy="230.08" r="1.6" fill="#000"/>
<circle cx="281.50" cy="228.09" r="1.6" fill="#000"/>
<circle cx="283.40" cy="225.30" r="1.6" fill="#000"/>
<circle cx="285.30" cy="220.88" r="1.6" fill="#000"/>
<circle cx="287.20" cy="212.42" r="1.6" fill="#000"/>
<circle cx="289.10" cy="203.65" r="1.6" fill="#000"/>
<circle cx="291.00" cy="191.32" r="1.6" fill="#000"/>
<circle cx="292.90" cy="184.38" r="1.6" fill="#000"/>
<circle cx="294.80" cy="180.72" r="1.6" fill="#000"/>
<circle cx="296.70" cy="178.95" r="1.6" fill="#000"/>
<circle cx="298.60" cy="179.06" r="1.6" fill="#000"/>
<circle cx="300.50" cy="180.32" r="1.6" fill="#000"/>
<circle cx="302.40" cy="183.66" r="1.6" fill="#000"/>
<circle cx="304.30" cy="185.55" r="1.6" fill="#000"/>
<circle cx="306.20" cy="188.13" r="1.6" fill="#000"/>
<circle cx="308.10" cy="191.65" r="1.6" fill="#000"/>
<circle cx="310.00" cy="195.26" r="1.6" fill="#000"/>
<circle cx="311.90" cy="197.42" r="1.6" fill="#000"/>
<circle cx="313.80" cy="200.12" r="1.6" fill="#000"/>
<circle cx="315.70" cy="203.01" r="1.6" fill="#000"/>
<circle cx="317.60" cy="206.00" r="1.6" fill="#000"/>
<circle cx="319.50" cy="207.65" r="1.6" fill="#000"/>
<circle cx="321.40" cy="208.51" r="1.6" fill="#000"/>
<circle cx="323.30" cy="211.33" r="1.6" fill="#000"/>
<circle cx="325.20" cy="213.49" r="1.6" fill="#000"/>
<circle cx="327.10" cy="213.30" r="1.6" fill="#000"/>
<circle cx="329.00" cy="215.10" r="1.6" fill="#000"/>
<circle cx="330.90" cy="218.64" r="1.6" fill="#000"/>
<circle cx="332.80" cy="220.35" r="1.6" fill="#000"/>
<circle cx="334.70" cy="220.64" r="1.6" fill="#000"/>
<circle cx="336.60" cy="221.24" r="1.6" fill="#000"/>
<circle cx="338.50" cy="220.78" r="1.6" fill="#000"/>
<circle cx="340.40" cy="222.67" r="1.6" fill="#000"/>
<circle cx="342.30" cy="222.02" r="1.6" fill="#000"/>
<circle cx="344.20" cy="222.21" r="1.6" fill="#000"/>
<circle cx="346.10" cy="223.97" r="1.6" fill="#000"/>
<circle cx="348.00" cy="225.84" r="1.6" fill="#000"/>
<circle cx="349.90" cy="226.51" r="1.6" fill="#000"/>
<circle cx="351.80" cy="226.09" r="1.6" fill="#000"/>
<circle cx="353.70" cy="226.64" r="1.6" fill="#000"/>
<circle cx="355.60" cy="227.20" r="1.6" fill="#000"/>
<circle cx="357.50" cy="228.30" r="1.6" fill="#000"/>
<circle cx="359.40" cy="228.90" r="1.6" fill="#000"/>
<circle cx="361.30" cy="227.60" r="1.6" fill="#000"/>
<circle cx="363.20" cy="226.95" r="1.6" fill="#000"/>
<circle cx="365.10" cy="226.96" r="1.6" fill="#000"/>
<circle cx="367.00" cy="227.24" r="1.6" fill="#000"/>
<circle cx="368.90" cy="228.19" r="1.6" fill="#000"/>
<circle cx="370.80" cy="227.76" r="1.6" fill="#000"/>
<circle cx="372.70" cy="228.60" r="1.6" fill="#000"/>
<circle cx="374.60" cy="228.71" r="1.6" fill="#000"/>
<circle cx="376.50" cy="228.42" r="1.6" fill="#000"/>
<circle cx="378.40" cy="226.66" r="1.6" fill="#000"/>
<circle cx="380.30" cy="227.18" r="1.6" fill="#000"/>
<circle cx="382.20" cy="227.42" r="1.6" fill="#000"/>
<circle cx="384.10" cy="230.85" r="1.6" fill="#000"/>
<circle cx="386.00" cy="229.51" r="1.6" fill="#000"/>
<circle cx="387.90" cy="230.78" r="1.6" fill="#000"/>
<circle cx="389.80" cy="229.62" r="1.6" fill="#000"/>
<rect x="397.60" y="151.60" width="113.90" height="80.25" fill="none" stroke="#2a2a2a" stroke-width="1"/>
<line x1="395.00" x2="397.60" y1="151.60" y2="151.60" stroke="#2a2a2a" stroke-width="0.9"/>
<line x1="395.00" x2="397.60" y1="172.00" y2="172.00" stroke="#2a2a2a" stroke-width="0.9"/>
<line x1="395.00" x2="397.60" y1="192.10" y2="192.10" stroke="#2a2a2a" stroke-width="0.9"/>
<line x1="395.00" x2="397.60" y1="212.40" y2="212.40" stroke="#2a2a2a" stroke-width="0.9"/>
<line x1="395.00" x2="397.60" y1="231.85" y2="231.85" stroke="#2a2a2a" stroke-width="0.9"/>
<polyline points="399.45,231.52 401.35,231.09 403.25,230.83 405.15,229.65 407.05,227.14 408.95,224.30 410.85,218.57 412.75,213.64 414.65,209.54 416.55,206.83 418.45,205.01 420.35,204.41 422.25,204.55 424.15,205.90 426.05,207.34 427.95,208.89 429.85,210.58 431.75,212.31 433.65,213.76 435.55,214.93 437.45,216.07 439.35,217.46 441.25,218.71 443.15,219.97 445.05,220.99 446.95,222.02 448.85,223.13 450.75,224.10 452.65,225.08 454.55,225.45 456.45,226.05 458.35,226.71 460.25,227.35 462.15,227.71 464.05,228.35 465.95,228.60 467.85,229.10 469.75,229.31 471.65,229.90 473.55,229.99 475.45,230.14 477.35,230.61 479.25,230.71 481.15,231.04 483.05,230.41 484.95,231.17 486.85,231.18 488.75,231.71 490.65,231.37 492.55,231.41 494.45,232.16 496.35,231.66 498.25,231.63 500.15,231.70 502.05,231.21 503.95,231.77 505.85,231.72 507.75,231.56 509.65,231.45" fill="none" stroke="#111" stroke-width="0.8" stroke-linejoin="round"/>
<circle cx="399.45" cy="231.52" r="1.25" fill="#fff" stroke="#000" stroke-width="0.9"/>
<circle cx="401.35" cy="231.09" r="1.25" fill="#fff" stroke="#000" stroke-width="0.9"/>
<circle cx="403.25" cy="230.83" r="1.25" fill="#fff" stroke="#000" stroke-width="0.9"/>
<circle cx="405.15" cy="229.65" r="1.25" fill="#fff" stroke="#000" stroke-width="0.9"/>
<circle cx="407.05" cy="227.14" r="1.25" fill="#fff" stroke="#000" stroke-width="0.9"/>
<circle cx="408.95" cy="224.30" r="1.25" fill="#fff" stroke="#000" stroke-width="0.9"/>
<circle cx="410.85" cy="218.57" r="1.25" fill="#fff" stroke="#000" stroke-width="0.9"/>
<circle cx="412.75" cy="213.64" r="1.25" fill="#fff" stroke="#000" stroke-width="0.9"/>
<circle cx="414.65" cy="209.54" r="1.25" fill="#fff" stroke="#000" stroke-width="0.9"/>
<circle cx="416.55" cy="206.83" r="1.25" fill="#fff" stroke="#000" stroke-width="0.9"/>
<circle cx="418.45" cy="205.01" r="1.25" fill="#fff" stroke="#000" stroke-width="0.9"/>
<circle cx="420.35" cy="204.41" r="1.25" fill="#fff" stroke="#000" stroke-width="0.9"/>
<circle cx="422.25" cy="204.55" r="1.25" fill="#fff" stroke="#000" stroke-width="0.9"/>
<circle cx="424.15" cy="205.90" r="1.25" fill="#fff" stroke="#000" stroke-width="0.9"/>
<circle cx="426.05" cy="207.34" r="1.25" fill="#fff" stroke="#000" stroke-width="0.9"/>
<circle cx="427.95" cy="208.89" r="1.25" fill="#fff" stroke="#000" stroke-width="0.9"/>
<circle cx="429.85" cy="210.58" r="1.25" fill="#fff" stroke="#000" stroke-width="0.9"/>
<circle cx="431.75" cy="212.31" r="1.25" fill="#fff" stroke="#000" stroke-width="0.9"/>
<circle cx="433.65" cy="213.76" r="1.25" fill="#fff" stroke="#000" stroke-width="0.9"/>
<circle cx="435.55" cy="214.93" r="1.25" fill="#fff" stroke="#000" stroke-width="0.9"/>
<circle cx="437.45" cy="216.07" r="1.25" fill="#fff" stroke="#000" stroke-width="0.9"/>
<circle cx="439.35" cy="217.46" r="1.25" fill="#fff" stroke="#000" stroke-width="0.9"/>
<circle cx="441.25" cy="218.71" r="1.25" fill="#fff" stroke="#000" stroke-width="0.9"/>
<circle cx="443.15" cy="219.97" r="1.25" fill="#fff" stroke="#000" stroke-width="0.9"/>
<circle cx="445.05" cy="220.99" r="1.25" fill="#fff" stroke="#000" stroke-width="0.9"/>
<circle cx="446.95" cy="222.02" r="1.25" fill="#fff" stroke="#000" stroke-width="0.9"/>
<circle cx="448.85" cy="223.13" r="1.25" fill="#fff" stroke="#000" stroke-width="0.9"/>
<circle cx="450.75" cy="224.10" r="1.25" fill="#fff" stroke="#000" stroke-width="0.9"/>
<circle cx="452.65" cy="225.08" r="1.25" fill="#fff" stroke="#000" stroke-width="0.9"/>
<circle cx="454.55" cy="225.45" r="1.25" fill="#fff" stroke="#000" stroke-width="0.9"/>
<circle cx="456.45" cy="226.05" r="1.25" fill="#fff" stroke="#000" stroke-width="0.9"/>
<circle cx="458.35" cy="226.71" r="1.25" fill="#fff" stroke="#000" stroke-width="0.9"/>
<circle cx="460.25" cy="227.35" r="1.25" fill="#fff" stroke="#000" stroke-width="0.9"/>
<circle cx="462.15" cy="227.71" r="1.25" fill="#fff" stroke="#000" stroke-width="0.9"/>
<circle cx="464.05" cy="228.35" r="1.25" fill="#fff" stroke="#000" stroke-width="0.9"/>
<circle cx="465.95" cy="228.60" r="1.25" fill="#fff" stroke="#000" stroke-width="0.9"/>
<circle cx="467.85" cy="229.10" r="1.25" fill="#fff" stroke="#000" stroke-width="0.9"/>
<circle cx="469.75" cy="229.31" r="1.25" fill="#fff" stroke="#000" stroke-width="0.9"/>
<circle cx="471.65" cy="229.90" r="1.25" fill="#fff" stroke="#000" stroke-width="0.9"/>
<circle cx="473.55" cy="229.99" r="1.25" fill="#fff" stroke="#000" stroke-width="0.9"/>
<circle cx="475.45" cy="230.14" r="1.25" fill="#fff" stroke="#000" stroke-width="0.9"/>
<circle cx="477.35" cy="230.61" r="1.25" fill="#fff" stroke="#000" stroke-width="0.9"/>
<circle cx="479.25" cy="230.71" r="1.25" fill="#fff" stroke="#000" stroke-width="0.9"/>
<circle cx="481.15" cy="231.04" r="1.25" fill="#fff" stroke="#000" stroke-width="0.9"/>
<circle cx="483.05" cy="230.41" r="1.25" fill="#fff" stroke="#000" stroke-width="0.9"/>
<circle cx="484.95" cy="231.17" r="1.25" fill="#fff" stroke="#000" stroke-width="0.9"/>
<circle cx="486.85" cy="231.18" r="1.25" fill="#fff" stroke="#000" stroke-width="0.9"/>
<circle cx="488.75" cy="231.71" r="1.25" fill="#fff" stroke="#000" stroke-width="0.9"/>
<circle cx="490.65" cy="231.37" r="1.25" fill="#fff" stroke="#000" stroke-width="0.9"/>
<circle cx="492.55" cy="231.41" r="1.25" fill="#fff" stroke="#000" stroke-width="0.9"/>
<circle cx="494.45" cy="232.16" r="1.25" fill="#fff" stroke="#000" stroke-width="0.9"/>
<circle cx="496.35" cy="231.66" r="1.25" fill="#fff" stroke="#000" stroke-width="0.9"/>
<circle cx="498.25" cy="231.63" r="1.25" fill="#fff" stroke="#000" stroke-width="0.9"/>
<circle cx="500.15" cy="231.70" r="1.25" fill="#fff" stroke="#000" stroke-width="0.9"/>
<circle cx="502.05" cy="231.21" r="1.25" fill="#fff" stroke="#000" stroke-width="0.9"/>
<circle cx="503.95" cy="231.77" r="1.25" fill="#fff" stroke="#000" stroke-width="0.9"/>
<circle cx="505.85" cy="231.72" r="1.25" fill="#fff" stroke="#000" stroke-width="0.9"/>
<circle cx="507.75" cy="231.56" r="1.25" fill="#fff" stroke="#000" stroke-width="0.9"/>
<circle cx="509.65" cy="231.45" r="1.25" fill="#fff" stroke="#000" stroke-width="0.9"/>
<polyline points="397.80,231.87 399.70,230.91 401.60,229.72 403.50,228.08 405.40,225.08 407.30,218.61 409.20,209.61 411.10,197.69 413.00,189.98 414.90,184.87 416.80,182.41 418.70,181.63 420.60,181.48 422.50,183.10 424.40,185.41 426.30,187.96 428.20,190.58 430.10,193.36 432.00,197.51 433.90,199.25 435.80,200.78 437.70,202.93 439.60,207.49 441.50,210.43 443.40,211.64 445.30,212.08 447.20,213.99 449.10,214.65 451.00,216.76 452.90,218.75 454.80,217.85 456.70,220.89 458.60,221.34 460.50,222.03 462.40,220.70 464.30,223.87 466.20,223.13 468.10,223.16 470.00,225.04 471.90,225.38 473.80,226.50 475.70,222.94 477.60,225.30 479.50,227.30 481.40,226.87 483.30,227.38 485.20,228.22 487.10,227.91 489.00,228.74 490.90,227.18 492.80,228.18 494.70,227.35 496.60,228.54 498.50,229.54 500.40,226.70 502.30,228.10 504.20,229.31 506.10,231.22 508.00,230.70 509.90,231.08" fill="none" stroke="#111" stroke-width="0.8" stroke-linejoin="round"/>
<circle cx="397.80" cy="231.87" r="1.6" fill="#000"/>
<circle cx="399.70" cy="230.91" r="1.6" fill="#000"/>
<circle cx="401.60" cy="229.72" r="1.6" fill="#000"/>
<circle cx="403.50" cy="228.08" r="1.6" fill="#000"/>
<circle cx="405.40" cy="225.08" r="1.6" fill="#000"/>
<circle cx="407.30" cy="218.61" r="1.6" fill="#000"/>
<circle cx="409.20" cy="209.61" r="1.6" fill="#000"/>
<circle cx="411.10" cy="197.69" r="1.6" fill="#000"/>
<circle cx="413.00" cy="189.98" r="1.6" fill="#000"/>
<circle cx="414.90" cy="184.87" r="1.6" fill="#000"/>
<circle cx="416.80" cy="182.41" r="1.6" fill="#000"/>
<circle cx="418.70" cy="181.63" r="1.6" fill="#000"/>
<circle cx="420.60" cy="181.48" r="1.6" fill="#000"/>
<circle cx="422.50" cy="183.10" r="1.6" fill="#000"/>
<circle cx="424.40" cy="185.41" r="1.6" fill="#000"/>
<circle cx="426.30" cy="187.96" r="1.6" fill="#000"/>
<circle cx="428.20" cy="190.58" r="1.6" fill="#000"/>
<circle cx="430.10" cy="193.36" r="1.6" fill="#000"/>
<circle cx="432.00" cy="197.51" r="1.6" fill="#000"/>
<circle cx="433.90" cy="199.25" r="1.6" fill="#000"/>
<circle cx="435.80" cy="200.78" r="1.6" fill="#000"/>
<circle cx="437.70" cy="202.93" r="1.6" fill="#000"/>
<circle cx="439.60" cy="207.49" r="1.6" fill="#000"/>
<circle cx="441.50" cy="210.43" r="1.6" fill="#000"/>
<circle cx="443.40" cy="211.64" r="1.6" fill="#000"/>
<circle cx="445.30" cy="212.08" r="1.6" fill="#000"/>
<circle cx="447.20" cy="213.99" r="1.6" fill="#000"/>
<circle cx="449.10" cy="214.65" r="1.6" fill="#000"/>
<circle cx="451.00" cy="216.76" r="1.6" fill="#000"/>
<circle cx="452.90" cy="218.75" r="1.6" fill="#000"/>
<circle cx="454.80" cy="217.85" r="1.6" fill="#000"/>
<circle cx="456.70" cy="220.89" r="1.6" fill="#000"/>
<circle cx="458.60" cy="221.34" r="1.6" fill="#000"/>
<circle cx="460.50" cy="222.03" r="1.6" fill="#000"/>
<circle cx="462.40" cy="220.70" r="1.6" fill="#000"/>
<circle cx="464.30" cy="223.87" r="1.6" fill="#000"/>
<circle cx="466.20" cy="223.13" r="1.6" fill="#000"/>
<circle cx="468.10" cy="223.16" r="1.6" fill="#000"/>
<circle cx="470.00" cy="225.04" r="1.6" fill="#000"/>
<circle cx="471.90" cy="225.38" r="1.6" fill="#000"/>
<circle cx="473.80" cy="226.50" r="1.6" fill="#000"/>
<circle cx="475.70" cy="222.94" r="1.6" fill="#000"/>
<circle cx="477.60" cy="225.30" r="1.6" fill="#000"/>
<circle cx="479.50" cy="227.30" r="1.6" fill="#000"/>
<circle cx="481.40" cy="226.87" r="1.6" fill="#000"/>
<circle cx="483.30" cy="227.38" r="1.6" fill="#000"/>
<circle cx="485.20" cy="228.22" r="1.6" fill="#000"/>
<circle cx="487.10" cy="227.91" r="1.6" fill="#000"/>
<circle cx="489.00" cy="228.74" r="1.6" fill="#000"/>
<circle cx="490.90" cy="227.18" r="1.6" fill="#000"/>
<circle cx="492.80" cy="228.18" r="1.6" fill="#000"/>
<circle cx="494.70" cy="227.35" r="1.6" fill="#000"/>
<circle cx="496.60" cy="228.54" r="1.6" fill="#000"/>
<circle cx="498.50" cy="229.54" r="1.6" fill="#000"/>
<circle cx="500.40" cy="226.70" r="1.6" fill="#000"/>
<circle cx="502.30" cy="228.10" r="1.6" fill="#000"/>
<circle cx="504.20" cy="229.31" r="1.6" fill="#000"/>
<circle cx="506.10" cy="231.22" r="1.6" fill="#000"/>
<circle cx="508.00" cy="230.70" r="1.6" fill="#000"/>
<circle cx="509.90" cy="231.08" r="1.6" fill="#000"/>
<text x="0.8" y="16.4" font-family="'Liberation Sans',Arial,sans-serif" font-size="20.4" font-weight="bold" text-anchor="start" fill="#111"  stroke="#111" stroke-width="0.25">A</text>
<text x="0.6" y="143.7" font-family="'Liberation Sans',Arial,sans-serif" font-size="19.6" font-weight="bold" text-anchor="start" fill="#111"  stroke="#111" stroke-width="0.25">B</text>
<text x="31.4" y="29.1" font-family="'DejaVu Sans','Liberation Sans',sans-serif" font-size="10" font-weight="normal" text-anchor="end" fill="#111" stroke="#111" stroke-width="0.22" >200</text>
<text x="31.4" y="49.1" font-family="'DejaVu Sans','Liberation Sans',sans-serif" font-size="10" font-weight="normal" text-anchor="end" fill="#111" stroke="#111" stroke-width="0.22" >150</text>
<text x="31.4" y="69.0" font-family="'DejaVu Sans','Liberation Sans',sans-serif" font-size="10" font-weight="normal" text-anchor="end" fill="#111" stroke="#111" stroke-width="0.22" >100</text>
<text x="31.4" y="89.0" font-family="'DejaVu Sans','Liberation Sans',sans-serif" font-size="10" font-weight="normal" text-anchor="end" fill="#111" stroke="#111" stroke-width="0.22" >50</text>
<text x="31.4" y="109.0" font-family="'DejaVu Sans','Liberation Sans',sans-serif" font-size="10" font-weight="normal" text-anchor="end" fill="#111" stroke="#111" stroke-width="0.22" >0</text>
<text x="31.0" y="155.1" font-family="'DejaVu Sans','Liberation Sans',sans-serif" font-size="10" font-weight="normal" text-anchor="end" fill="#111" stroke="#111" stroke-width="0.22" >100</text>
<text x="31.0" y="175.4" font-family="'DejaVu Sans','Liberation Sans',sans-serif" font-size="10" font-weight="normal" text-anchor="end" fill="#111" stroke="#111" stroke-width="0.22" >75</text>
<text x="31.0" y="195.6" font-family="'DejaVu Sans','Liberation Sans',sans-serif" font-size="10" font-weight="normal" text-anchor="end" fill="#111" stroke="#111" stroke-width="0.22" >50</text>
<text x="31.0" y="215.8" font-family="'DejaVu Sans','Liberation Sans',sans-serif" font-size="10" font-weight="normal" text-anchor="end" fill="#111" stroke="#111" stroke-width="0.22" >25</text>
<text x="31.0" y="235.4" font-family="'DejaVu Sans','Liberation Sans',sans-serif" font-size="10" font-weight="normal" text-anchor="end" fill="#111" stroke="#111" stroke-width="0.22" >0</text>
<text x="36.4" y="119.5" font-family="'DejaVu Sans','Liberation Sans',sans-serif" font-size="10" font-weight="normal" text-anchor="middle" fill="#111" stroke="#111" stroke-width="0.22" >0</text>
<text x="65.4" y="119.5" font-family="'DejaVu Sans','Liberation Sans',sans-serif" font-size="10" font-weight="normal" text-anchor="middle" fill="#111" stroke="#111" stroke-width="0.22" >5</text>
<text x="95.0" y="119.5" font-family="'DejaVu Sans','Liberation Sans',sans-serif" font-size="10" font-weight="normal" text-anchor="middle" fill="#111" stroke="#111" stroke-width="0.22" >10</text>
<text x="123.7" y="119.5" font-family="'DejaVu Sans','Liberation Sans',sans-serif" font-size="10" font-weight="normal" text-anchor="middle" fill="#111" stroke="#111" stroke-width="0.22" >15</text>
<line x1="64.75" x2="64.75" y1="105.20" y2="107.70" stroke="#2a2a2a" stroke-width="0.9"/>
<line x1="93.10" x2="93.10" y1="105.20" y2="107.70" stroke="#2a2a2a" stroke-width="0.9"/>
<line x1="121.45" x2="121.45" y1="105.20" y2="107.70" stroke="#2a2a2a" stroke-width="0.9"/>
<text x="157.7" y="119.5" font-family="'DejaVu Sans','Liberation Sans',sans-serif" font-size="10" font-weight="normal" text-anchor="middle" fill="#111" stroke="#111" stroke-width="0.22" >0</text>
<text x="186.6" y="119.5" font-family="'DejaVu Sans','Liberation Sans',sans-serif" font-size="10" font-weight="normal" text-anchor="middle" fill="#111" stroke="#111" stroke-width="0.22" >5</text>
<text x="216.5" y="119.5" font-family="'DejaVu Sans','Liberation Sans',sans-serif" font-size="10" font-weight="normal" text-anchor="middle" fill="#111" stroke="#111" stroke-width="0.22" >10</text>
<text x="244.8" y="119.5" font-family="'DejaVu Sans','Liberation Sans',sans-serif" font-size="10" font-weight="normal" text-anchor="middle" fill="#111" stroke="#111" stroke-width="0.22" >15</text>
<line x1="186.05" x2="186.05" y1="105.20" y2="107.70" stroke="#2a2a2a" stroke-width="0.9"/>
<line x1="214.40" x2="214.40" y1="105.20" y2="107.70" stroke="#2a2a2a" stroke-width="0.9"/>
<line x1="242.75" x2="242.75" y1="105.20" y2="107.70" stroke="#2a2a2a" stroke-width="0.9"/>
<text x="277.7" y="119.5" font-family="'DejaVu Sans','Liberation Sans',sans-serif" font-size="10" font-weight="normal" text-anchor="middle" fill="#111" stroke="#111" stroke-width="0.22" >0</text>
<text x="306.2" y="119.5" font-family="'DejaVu Sans','Liberation Sans',sans-serif" font-size="10" font-weight="normal" text-anchor="middle" fill="#111" stroke="#111" stroke-width="0.22" >5</text>
<text x="336.5" y="119.5" font-family="'DejaVu Sans','Liberation Sans',sans-serif" font-size="10" font-weight="normal" text-anchor="middle" fill="#111" stroke="#111" stroke-width="0.22" >10</text>
<text x="365.3" y="119.5" font-family="'DejaVu Sans','Liberation Sans',sans-serif" font-size="10" font-weight="normal" text-anchor="middle" fill="#111" stroke="#111" stroke-width="0.22" >15</text>
<line x1="306.05" x2="306.05" y1="105.20" y2="107.70" stroke="#2a2a2a" stroke-width="0.9"/>
<line x1="334.40" x2="334.40" y1="105.20" y2="107.70" stroke="#2a2a2a" stroke-width="0.9"/>
<line x1="362.75" x2="362.75" y1="105.20" y2="107.70" stroke="#2a2a2a" stroke-width="0.9"/>
<text x="398.8" y="119.5" font-family="'DejaVu Sans','Liberation Sans',sans-serif" font-size="10" font-weight="normal" text-anchor="middle" fill="#111" stroke="#111" stroke-width="0.22" >0</text>
<text x="427.5" y="119.5" font-family="'DejaVu Sans','Liberation Sans',sans-serif" font-size="10" font-weight="normal" text-anchor="middle" fill="#111" stroke="#111" stroke-width="0.22" >5</text>
<text x="457.5" y="119.5" font-family="'DejaVu Sans','Liberation Sans',sans-serif" font-size="10" font-weight="normal" text-anchor="middle" fill="#111" stroke="#111" stroke-width="0.22" >10</text>
<text x="486.4" y="119.5" font-family="'DejaVu Sans','Liberation Sans',sans-serif" font-size="10" font-weight="normal" text-anchor="middle" fill="#111" stroke="#111" stroke-width="0.22" >15</text>
<text x="513.2" y="119.5" font-family="'DejaVu Sans','Liberation Sans',sans-serif" font-size="10" font-weight="normal" text-anchor="middle" fill="#111" stroke="#111" stroke-width="0.22" >20</text>
<line x1="427.15" x2="427.15" y1="105.20" y2="107.70" stroke="#2a2a2a" stroke-width="0.9"/>
<line x1="455.50" x2="455.50" y1="105.20" y2="107.70" stroke="#2a2a2a" stroke-width="0.9"/>
<line x1="483.85" x2="483.85" y1="105.20" y2="107.70" stroke="#2a2a2a" stroke-width="0.9"/>
<text x="35.2" y="246.0" font-family="'DejaVu Sans','Liberation Sans',sans-serif" font-size="10" font-weight="normal" text-anchor="middle" fill="#111" stroke="#111" stroke-width="0.22" >0</text>
<text x="64.2" y="246.0" font-family="'DejaVu Sans','Liberation Sans',sans-serif" font-size="10" font-weight="normal" text-anchor="middle" fill="#111" stroke="#111" stroke-width="0.22" >5</text>
<text x="93.2" y="246.0" font-family="'DejaVu Sans','Liberation Sans',sans-serif" font-size="10" font-weight="normal" text-anchor="middle" fill="#111" stroke="#111" stroke-width="0.22" >10</text>
<text x="122.8" y="246.0" font-family="'DejaVu Sans','Liberation Sans',sans-serif" font-size="10" font-weight="normal" text-anchor="middle" fill="#111" stroke="#111" stroke-width="0.22" >15</text>
<line x1="63.55" x2="63.55" y1="231.85" y2="234.35" stroke="#2a2a2a" stroke-width="0.9"/>
<line x1="91.90" x2="91.90" y1="231.85" y2="234.35" stroke="#2a2a2a" stroke-width="0.9"/>
<line x1="120.25" x2="120.25" y1="231.85" y2="234.35" stroke="#2a2a2a" stroke-width="0.9"/>
<text x="157.2" y="246.0" font-family="'DejaVu Sans','Liberation Sans',sans-serif" font-size="10" font-weight="normal" text-anchor="middle" fill="#111" stroke="#111" stroke-width="0.22" >0</text>
<text x="186.3" y="246.0" font-family="'DejaVu Sans','Liberation Sans',sans-serif" font-size="10" font-weight="normal" text-anchor="middle" fill="#111" stroke="#111" stroke-width="0.22" >5</text>
<text x="216.2" y="246.0" font-family="'DejaVu Sans','Liberation Sans',sans-serif" font-size="10" font-weight="normal" text-anchor="middle" fill="#111" stroke="#111" stroke-width="0.22" >10</text>
<text x="244.5" y="246.0" font-family="'DejaVu Sans','Liberation Sans',sans-serif" font-size="10" font-weight="normal" text-anchor="middle" fill="#111" stroke="#111" stroke-width="0.22" >15</text>
<line x1="185.55" x2="185.55" y1="231.85" y2="234.35" stroke="#2a2a2a" stroke-width="0.9"/>
<line x1="213.90" x2="213.90" y1="231.85" y2="234.35" stroke="#2a2a2a" stroke-width="0.9"/>
<line x1="242.25" x2="242.25" y1="231.85" y2="234.35" stroke="#2a2a2a" stroke-width="0.9"/>
<text x="278.5" y="246.0" font-family="'DejaVu Sans','Liberation Sans',sans-serif" font-size="10" font-weight="normal" text-anchor="middle" fill="#111" stroke="#111" stroke-width="0.22" >0</text>
<text x="306.8" y="246.0" font-family="'DejaVu Sans','Liberation Sans',sans-serif" font-size="10" font-weight="normal" text-anchor="middle" fill="#111" stroke="#111" stroke-width="0.22" >5</text>
<text x="337.0" y="246.0" font-family="'DejaVu Sans','Liberation Sans',sans-serif" font-size="10" font-weight="normal" text-anchor="middle" fill="#111" stroke="#111" stroke-width="0.22" >10</text>
<text x="365.8" y="246.0" font-family="'DejaVu Sans','Liberation Sans',sans-serif" font-size="10" font-weight="normal" text-anchor="middle" fill="#111" stroke="#111" stroke-width="0.22" >15</text>
<line x1="306.85" x2="306.85" y1="231.85" y2="234.35" stroke="#2a2a2a" stroke-width="0.9"/>
<line x1="335.20" x2="335.20" y1="231.85" y2="234.35" stroke="#2a2a2a" stroke-width="0.9"/>
<line x1="363.55" x2="363.55" y1="231.85" y2="234.35" stroke="#2a2a2a" stroke-width="0.9"/>
<text x="398.2" y="246.0" font-family="'DejaVu Sans','Liberation Sans',sans-serif" font-size="10" font-weight="normal" text-anchor="middle" fill="#111" stroke="#111" stroke-width="0.22" >0</text>
<text x="427.0" y="246.0" font-family="'DejaVu Sans','Liberation Sans',sans-serif" font-size="10" font-weight="normal" text-anchor="middle" fill="#111" stroke="#111" stroke-width="0.22" >5</text>
<text x="456.9" y="246.0" font-family="'DejaVu Sans','Liberation Sans',sans-serif" font-size="10" font-weight="normal" text-anchor="middle" fill="#111" stroke="#111" stroke-width="0.22" >10</text>
<text x="485.8" y="246.0" font-family="'DejaVu Sans','Liberation Sans',sans-serif" font-size="10" font-weight="normal" text-anchor="middle" fill="#111" stroke="#111" stroke-width="0.22" >15</text>
<text x="512.7" y="246.0" font-family="'DejaVu Sans','Liberation Sans',sans-serif" font-size="10" font-weight="normal" text-anchor="middle" fill="#111" stroke="#111" stroke-width="0.22" >20</text>
<line x1="426.55" x2="426.55" y1="231.85" y2="234.35" stroke="#2a2a2a" stroke-width="0.9"/>
<line x1="454.90" x2="454.90" y1="231.85" y2="234.35" stroke="#2a2a2a" stroke-width="0.9"/>
<line x1="483.25" x2="483.25" y1="231.85" y2="234.35" stroke="#2a2a2a" stroke-width="0.9"/>
<text x="143.4" y="40.5" font-family="'DejaVu Sans','Liberation Sans',sans-serif" font-size="10" font-weight="normal" text-anchor="end" fill="#111" stroke="#111" stroke-width="0.22" word-spacing="0.7">100 µM</text>
<text x="264.3" y="40.5" font-family="'DejaVu Sans','Liberation Sans',sans-serif" font-size="10" font-weight="normal" text-anchor="end" fill="#111" stroke="#111" stroke-width="0.22" word-spacing="0.7">25 µM</text>
<text x="384.0" y="40.5" font-family="'DejaVu Sans','Liberation Sans',sans-serif" font-size="10" font-weight="normal" text-anchor="end" fill="#111" stroke="#111" stroke-width="0.22" word-spacing="0.7">5 µM</text>
<text x="505.5" y="40.5" font-family="'DejaVu Sans','Liberation Sans',sans-serif" font-size="10" font-weight="normal" text-anchor="end" fill="#111" stroke="#111" stroke-width="0.22" word-spacing="0.7">1 µM</text>
<text x="143.4" y="167.4" font-family="'DejaVu Sans','Liberation Sans',sans-serif" font-size="10" font-weight="normal" text-anchor="end" fill="#111" stroke="#111" stroke-width="0.22" word-spacing="0.7">100 µM</text>
<text x="263.8" y="167.4" font-family="'DejaVu Sans','Liberation Sans',sans-serif" font-size="10" font-weight="normal" text-anchor="end" fill="#111" stroke="#111" stroke-width="0.22" word-spacing="0.7">25 µM</text>
<text x="383.4" y="167.4" font-family="'DejaVu Sans','Liberation Sans',sans-serif" font-size="10" font-weight="normal" text-anchor="end" fill="#111" stroke="#111" stroke-width="0.22" word-spacing="0.7">5 µM</text>
<text x="504.8" y="167.4" font-family="'DejaVu Sans','Liberation Sans',sans-serif" font-size="10" font-weight="normal" text-anchor="end" fill="#111" stroke="#111" stroke-width="0.22" word-spacing="0.7">1 µM</text>
<text x="287.5" y="135.0" font-family="'DejaVu Sans','Liberation Sans',sans-serif" font-size="12.8" font-weight="normal" text-anchor="middle" fill="#111" stroke="#111" stroke-width="0.22" >Time (min)</text>
<text x="288" y="258.7" font-family="'DejaVu Sans','Liberation Sans',sans-serif" font-size="12.8" font-weight="normal" text-anchor="middle" fill="#111" stroke="#111" stroke-width="0.22" >Time (min)</text>
<text transform="translate(9.0,106.0) rotate(-90)" font-family="'DejaVu Sans','Liberation Sans',sans-serif" font-size="10.2" letter-spacing="0.16" fill="#111" stroke="#111" stroke-width="0.22">Thrombin (nM)</text>
<text transform="translate(9.0,231.6) rotate(-90)" font-family="'DejaVu Sans','Liberation Sans',sans-serif" font-size="10.2" letter-spacing="0.16" fill="#111" stroke="#111" stroke-width="0.22">Thrombin (nM)</text>
</svg>
</body></html>
